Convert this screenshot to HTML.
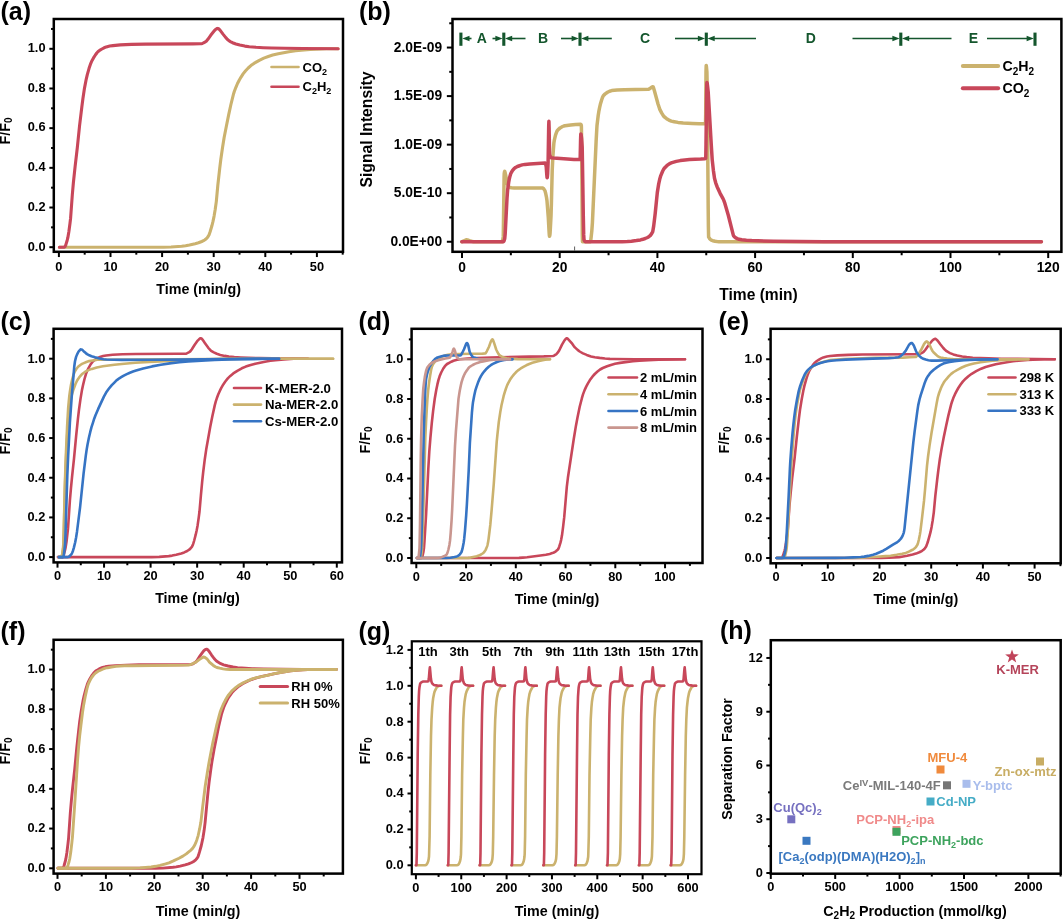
<!DOCTYPE html>
<html><head><meta charset="utf-8"><title>Figure</title>
<style>
html,body{margin:0;padding:0;background:#fff;}
svg{display:block;font-family:"Liberation Sans", Arial, Helvetica, sans-serif;}
</style></head><body>
<svg width="1063" height="919" viewBox="0 0 1063 919">
<rect x="0" y="0" width="1063" height="919" fill="#fff"/>
<path d="M59.4 247.2L163.3 247.2L171.1 247.0L181.7 246.3L185.6 245.7L189.5 245.0L195.1 243.7L198.5 242.8L201.8 241.5L203.5 240.7L204.6 240.0L206.3 238.7L207.4 237.5L208.5 235.9L209.1 234.7L210.2 231.5L211.9 225.8L213.0 221.4L214.1 216.1L215.2 209.5L216.3 201.6L217.8 185.5L219.7 168.5L220.8 159.5L222.5 147.7L224.1 137.7L226.4 126.0L228.6 115.1L230.8 105.0L233.6 93.7L234.3 91.5L235.9 87.3L237.5 83.5L239.2 80.2L240.9 77.3L243.1 73.9L245.4 71.0L248.2 68.0L250.9 65.6L254.3 63.2L259.3 60.3L263.8 58.1L268.3 56.5L272.7 55.1L278.3 53.8L288.9 51.8L295.6 50.8L301.2 50.1L310.1 49.4L321.3 48.9L326.3 48.8L338.1 48.8" fill="none" stroke="#cbb26e" stroke-width="3.1" stroke-linecap="round" stroke-linejoin="round"/>
<path d="M59.4 247.2L64.3 247.2L64.4 247.2L65.0 246.6L65.6 245.5L66.1 243.9L67.2 240.2L67.8 237.9L68.9 231.5L70.0 223.2L70.6 218.2L72.3 195.0L73.4 182.5L75.1 166.7L77.3 147.8L79.6 125.4L81.8 107.2L82.9 98.7L84.5 88.1L86.2 79.3L87.3 74.6L89.0 68.6L90.7 63.6L91.8 61.0L93.5 57.9L95.7 54.5L96.8 53.0L97.9 51.8L99.6 50.4L101.9 49.0L104.1 47.8L106.3 46.9L108.0 46.4L109.7 46.0L113.0 45.6L120.3 44.9L131.4 44.4L145.4 44.1L192.9 43.9L200.3 43.8L201.2 43.7L202.4 43.4L203.5 42.9L205.4 41.9L206.3 41.2L207.9 39.3L210.7 35.3L214.7 30.3L215.2 29.8L216.3 29.0L216.9 28.6L217.8 28.4L218.6 28.7L220.2 30.3L223.0 34.1L225.8 37.6L227.5 39.5L229.2 40.9L230.8 41.8L232.5 42.7L235.9 44.0L239.8 45.1L244.8 46.1L249.3 46.7L256.0 47.3L263.2 47.7L271.6 48.0L285.0 48.3L302.9 48.5L338.1 48.8" fill="none" stroke="#c8475a" stroke-width="3.1" stroke-linecap="round" stroke-linejoin="round"/>
<line x1="58.90" y1="251.80" x2="58.90" y2="257.05" stroke="#000" stroke-width="2" stroke-linecap="butt"/>
<text x="58.90" y="270.50" font-size="12.8" text-anchor="middle" fill="#000" font-weight="bold">0</text>
<line x1="110.50" y1="251.80" x2="110.50" y2="257.05" stroke="#000" stroke-width="2" stroke-linecap="butt"/>
<text x="110.50" y="270.50" font-size="12.8" text-anchor="middle" fill="#000" font-weight="bold">10</text>
<line x1="162.10" y1="251.80" x2="162.10" y2="257.05" stroke="#000" stroke-width="2" stroke-linecap="butt"/>
<text x="162.10" y="270.50" font-size="12.8" text-anchor="middle" fill="#000" font-weight="bold">20</text>
<line x1="213.70" y1="251.80" x2="213.70" y2="257.05" stroke="#000" stroke-width="2" stroke-linecap="butt"/>
<text x="213.70" y="270.50" font-size="12.8" text-anchor="middle" fill="#000" font-weight="bold">30</text>
<line x1="265.30" y1="251.80" x2="265.30" y2="257.05" stroke="#000" stroke-width="2" stroke-linecap="butt"/>
<text x="265.30" y="270.50" font-size="12.8" text-anchor="middle" fill="#000" font-weight="bold">40</text>
<line x1="316.90" y1="251.80" x2="316.90" y2="257.05" stroke="#000" stroke-width="2" stroke-linecap="butt"/>
<text x="316.90" y="270.50" font-size="12.8" text-anchor="middle" fill="#000" font-weight="bold">50</text>
<line x1="84.70" y1="251.80" x2="84.70" y2="254.65" stroke="#000" stroke-width="2" stroke-linecap="butt"/>
<line x1="136.30" y1="251.80" x2="136.30" y2="254.65" stroke="#000" stroke-width="2" stroke-linecap="butt"/>
<line x1="187.90" y1="251.80" x2="187.90" y2="254.65" stroke="#000" stroke-width="2" stroke-linecap="butt"/>
<line x1="239.50" y1="251.80" x2="239.50" y2="254.65" stroke="#000" stroke-width="2" stroke-linecap="butt"/>
<line x1="291.10" y1="251.80" x2="291.10" y2="254.65" stroke="#000" stroke-width="2" stroke-linecap="butt"/>
<line x1="342.70" y1="251.80" x2="342.70" y2="254.65" stroke="#000" stroke-width="2" stroke-linecap="butt"/>
<line x1="49.35" y1="247.20" x2="53.80" y2="247.20" stroke="#000" stroke-width="2" stroke-linecap="butt"/>
<text x="45.50" y="250.50" font-size="12.8" text-anchor="end" fill="#000" font-weight="bold">0.0</text>
<line x1="49.35" y1="207.52" x2="53.80" y2="207.52" stroke="#000" stroke-width="2" stroke-linecap="butt"/>
<text x="45.50" y="210.82" font-size="12.8" text-anchor="end" fill="#000" font-weight="bold">0.2</text>
<line x1="49.35" y1="167.84" x2="53.80" y2="167.84" stroke="#000" stroke-width="2" stroke-linecap="butt"/>
<text x="45.50" y="171.14" font-size="12.8" text-anchor="end" fill="#000" font-weight="bold">0.4</text>
<line x1="49.35" y1="128.16" x2="53.80" y2="128.16" stroke="#000" stroke-width="2" stroke-linecap="butt"/>
<text x="45.50" y="131.46" font-size="12.8" text-anchor="end" fill="#000" font-weight="bold">0.6</text>
<line x1="49.35" y1="88.48" x2="53.80" y2="88.48" stroke="#000" stroke-width="2" stroke-linecap="butt"/>
<text x="45.50" y="91.78" font-size="12.8" text-anchor="end" fill="#000" font-weight="bold">0.8</text>
<line x1="49.35" y1="48.80" x2="53.80" y2="48.80" stroke="#000" stroke-width="2" stroke-linecap="butt"/>
<text x="45.50" y="52.10" font-size="12.8" text-anchor="end" fill="#000" font-weight="bold">1.0</text>
<line x1="51.05" y1="227.36" x2="53.80" y2="227.36" stroke="#000" stroke-width="2" stroke-linecap="butt"/>
<line x1="51.05" y1="187.68" x2="53.80" y2="187.68" stroke="#000" stroke-width="2" stroke-linecap="butt"/>
<line x1="51.05" y1="148.00" x2="53.80" y2="148.00" stroke="#000" stroke-width="2" stroke-linecap="butt"/>
<line x1="51.05" y1="108.32" x2="53.80" y2="108.32" stroke="#000" stroke-width="2" stroke-linecap="butt"/>
<line x1="51.05" y1="68.64" x2="53.80" y2="68.64" stroke="#000" stroke-width="2" stroke-linecap="butt"/>
<line x1="51.05" y1="28.96" x2="53.80" y2="28.96" stroke="#000" stroke-width="2" stroke-linecap="butt"/>
<rect x="53.80" y="19.00" width="289.20" height="232.80" fill="none" stroke="#000" stroke-width="2.5"/>
<line x1="271.50" y1="67.00" x2="298.50" y2="67.00" stroke="#cbb26e" stroke-width="2.6" stroke-linecap="round"/>
<text x="302.50" y="71.60" font-size="13" text-anchor="start" fill="#000" font-weight="bold">CO<tspan dy="3" font-size="9">2</tspan><tspan dy="-3" font-size="1">&#8203;</tspan></text>
<line x1="271.50" y1="86.80" x2="298.50" y2="86.80" stroke="#c8475a" stroke-width="2.6" stroke-linecap="round"/>
<text x="302.50" y="91.40" font-size="13" text-anchor="start" fill="#000" font-weight="bold">C<tspan dy="3" font-size="9">2</tspan><tspan dy="-3" font-size="1">&#8203;</tspan>H<tspan dy="3" font-size="9">2</tspan><tspan dy="-3" font-size="1">&#8203;</tspan></text>
<text x="198.60" y="293.80" font-size="14.3" text-anchor="middle" fill="#000" font-weight="bold">Time (min/g)</text>
<text x="9.80" y="131.00" font-size="14.3" text-anchor="middle" fill="#000" font-weight="bold" transform="rotate(-90 9.80 131.00)">F/F<tspan dy="2.6" font-size="10">0</tspan><tspan dy="-2.6" font-size="1">&#8203;</tspan></text>
<text x="0.50" y="19.50" font-size="25" text-anchor="start" fill="#000" font-weight="bold">(a)</text>
<path d="M461.8 241.8L464.3 240.7L465.8 240.0L466.6 239.8L467.4 239.9L469.3 240.7L471.4 241.3L473.5 241.7L502.0 241.8L502.1 241.7L502.3 241.4L502.9 239.0L503.2 236.9L503.3 235.0L504.1 176.8L504.2 173.8L504.5 171.8L504.7 171.3L504.8 171.5L505.0 172.2L505.6 174.8L507.2 182.9L508.3 186.1L508.7 186.9L509.1 187.3L511.4 187.7L514.3 187.9L542.3 187.9L542.7 188.0L543.1 188.2L544.1 189.4L544.9 190.6L545.6 193.0L546.4 196.8L547.0 200.8L548.3 217.6L549.1 232.2L549.3 234.9L549.5 236.2L549.7 235.9L549.9 234.7L550.1 232.8L551.0 216.4L551.4 203.6L552.2 170.7L552.8 158.0L553.4 149.2L553.9 142.9L554.4 139.8L555.5 135.2L556.5 132.4L557.0 131.1L557.6 130.3L558.8 129.1L560.1 127.9L561.3 127.2L562.6 126.5L563.8 126.0L565.0 125.7L570.6 124.9L575.6 124.4L580.6 124.3L580.8 124.4L581.0 124.6L581.3 125.2L581.4 126.9L581.6 140.8L582.2 217.3L582.3 235.9L582.5 241.8L590.3 241.8L590.5 241.5L590.7 240.8L591.2 236.6L591.8 231.1L592.4 222.8L596.1 141.7L596.7 130.7L597.0 125.5L598.2 115.5L598.8 111.7L599.6 107.6L600.5 103.7L601.7 99.7L602.6 97.1L603.4 95.7L603.9 95.1L605.2 93.9L607.5 92.3L609.6 91.2L611.7 90.6L617.1 90.1L624.5 89.8L635.3 89.5L648.5 89.3L648.8 89.2L649.4 88.9L652.1 87.0L652.5 86.8L652.9 86.8L653.1 86.9L653.5 87.7L654.4 90.7L658.1 104.2L659.1 107.3L659.8 109.4L661.6 112.9L663.3 115.7L664.7 117.2L666.6 118.7L668.9 120.1L671.3 121.1L674.2 121.7L678.0 122.4L683.2 122.9L692.3 123.4L699.3 123.7L705.5 123.8L705.7 113.8L706.0 71.9L706.2 65.5L706.4 66.3L706.9 71.8L707.2 86.8L708.2 209.2L708.4 226.9L708.6 236.2L708.6 236.9L709.5 238.5L710.3 239.4L711.3 240.1L712.8 240.7L715.1 241.3L717.1 241.6L718.8 241.7L1041.4 241.8" fill="none" stroke="#cbb26e" stroke-width="3.5" stroke-linecap="round" stroke-linejoin="round"/>
<path d="M461.8 241.8L503.2 241.8L503.5 241.6L503.7 241.4L504.1 240.6L504.7 238.8L504.8 237.9L505.2 233.6L507.0 198.5L507.6 190.3L508.7 182.3L509.3 179.0L509.9 176.4L510.7 173.8L511.6 172.0L512.6 170.4L513.9 168.8L514.7 168.1L515.5 167.5L517.0 166.7L518.8 166.0L520.5 165.4L522.2 164.9L524.9 164.4L529.8 163.9L541.2 163.2L545.2 163.1L545.4 163.4L545.6 163.9L546.2 166.5L546.8 175.0L547.0 177.2L547.1 177.7L547.2 177.6L547.4 176.4L547.6 174.1L548.1 162.2L548.7 126.1L548.9 121.3L549.1 127.4L549.5 150.8L549.6 154.4L550.3 156.7L550.7 157.4L551.0 157.7L553.6 158.1L567.3 159.0L574.0 159.4L580.1 159.5L580.2 157.2L580.6 139.0L580.8 134.0L581.0 134.3L581.2 135.2L581.6 138.8L582.2 147.3L582.5 164.8L583.3 216.1L583.7 234.9L584.0 239.8L584.5 240.8L584.9 241.3L585.2 241.6L585.7 241.8L622.2 241.7L627.4 241.5L631.4 241.2L636.4 240.6L640.5 239.9L642.8 239.3L645.2 238.5L647.5 237.5L648.8 236.7L650.2 235.6L651.5 233.9L652.5 232.2L652.9 230.7L653.7 225.9L655.2 213.5L657.3 192.6L658.7 183.9L659.7 179.3L660.8 175.6L662.6 171.3L663.5 169.5L664.3 168.3L665.3 167.2L666.8 165.7L668.2 164.6L669.5 163.7L670.7 163.1L672.0 162.6L676.3 161.4L680.3 160.6L685.0 160.0L689.4 159.6L700.8 159.1L704.7 158.7L705.7 158.4L705.8 155.5L706.0 144.1L706.6 93.9L706.8 84.1L706.9 82.5L707.2 83.3L707.6 86.4L708.2 92.0L711.3 145.3L712.2 159.6L713.4 170.5L714.0 174.8L714.5 178.3L715.7 182.8L717.1 186.7L720.1 193.3L723.0 198.6L723.8 200.4L724.6 202.6L725.9 207.0L728.3 215.3L733.3 235.1L733.7 236.0L734.5 236.8L735.8 237.9L737.2 238.6L739.1 239.3L741.8 239.8L746.4 240.3L751.7 240.6L773.7 241.2L799.0 241.6L824.1 241.7L1041.4 241.8" fill="none" stroke="#c8475a" stroke-width="3.5" stroke-linecap="round" stroke-linejoin="round"/>
<line x1="462.00" y1="251.80" x2="462.00" y2="258.05" stroke="#000" stroke-width="2" stroke-linecap="butt"/>
<text x="462.00" y="272.30" font-size="13.8" text-anchor="middle" fill="#000" font-weight="bold">0</text>
<line x1="559.70" y1="251.80" x2="559.70" y2="258.05" stroke="#000" stroke-width="2" stroke-linecap="butt"/>
<text x="559.70" y="272.30" font-size="13.8" text-anchor="middle" fill="#000" font-weight="bold">20</text>
<line x1="657.40" y1="251.80" x2="657.40" y2="258.05" stroke="#000" stroke-width="2" stroke-linecap="butt"/>
<text x="657.40" y="272.30" font-size="13.8" text-anchor="middle" fill="#000" font-weight="bold">40</text>
<line x1="755.10" y1="251.80" x2="755.10" y2="258.05" stroke="#000" stroke-width="2" stroke-linecap="butt"/>
<text x="755.10" y="272.30" font-size="13.8" text-anchor="middle" fill="#000" font-weight="bold">60</text>
<line x1="852.80" y1="251.80" x2="852.80" y2="258.05" stroke="#000" stroke-width="2" stroke-linecap="butt"/>
<text x="852.80" y="272.30" font-size="13.8" text-anchor="middle" fill="#000" font-weight="bold">80</text>
<line x1="950.50" y1="251.80" x2="950.50" y2="258.05" stroke="#000" stroke-width="2" stroke-linecap="butt"/>
<text x="950.50" y="272.30" font-size="13.8" text-anchor="middle" fill="#000" font-weight="bold">100</text>
<line x1="1048.20" y1="251.80" x2="1048.20" y2="258.05" stroke="#000" stroke-width="2" stroke-linecap="butt"/>
<text x="1048.20" y="272.30" font-size="13.8" text-anchor="middle" fill="#000" font-weight="bold">120</text>
<line x1="510.85" y1="251.80" x2="510.85" y2="255.25" stroke="#000" stroke-width="2" stroke-linecap="butt"/>
<line x1="608.55" y1="251.80" x2="608.55" y2="255.25" stroke="#000" stroke-width="2" stroke-linecap="butt"/>
<line x1="706.25" y1="251.80" x2="706.25" y2="255.25" stroke="#000" stroke-width="2" stroke-linecap="butt"/>
<line x1="803.95" y1="251.80" x2="803.95" y2="255.25" stroke="#000" stroke-width="2" stroke-linecap="butt"/>
<line x1="901.65" y1="251.80" x2="901.65" y2="255.25" stroke="#000" stroke-width="2" stroke-linecap="butt"/>
<line x1="999.35" y1="251.80" x2="999.35" y2="255.25" stroke="#000" stroke-width="2" stroke-linecap="butt"/>
<line x1="446.85" y1="241.75" x2="452.50" y2="241.75" stroke="#000" stroke-width="2" stroke-linecap="butt"/>
<text x="442.20" y="245.85" font-size="13.8" text-anchor="end" fill="#000" font-weight="bold">0.0E+00</text>
<line x1="446.85" y1="193.20" x2="452.50" y2="193.20" stroke="#000" stroke-width="2" stroke-linecap="butt"/>
<text x="442.20" y="197.30" font-size="13.8" text-anchor="end" fill="#000" font-weight="bold">5.0E-10</text>
<line x1="446.85" y1="144.65" x2="452.50" y2="144.65" stroke="#000" stroke-width="2" stroke-linecap="butt"/>
<text x="442.20" y="148.75" font-size="13.8" text-anchor="end" fill="#000" font-weight="bold">1.0E-09</text>
<line x1="446.85" y1="96.10" x2="452.50" y2="96.10" stroke="#000" stroke-width="2" stroke-linecap="butt"/>
<text x="442.20" y="100.20" font-size="13.8" text-anchor="end" fill="#000" font-weight="bold">1.5E-09</text>
<line x1="446.85" y1="47.55" x2="452.50" y2="47.55" stroke="#000" stroke-width="2" stroke-linecap="butt"/>
<text x="442.20" y="51.65" font-size="13.8" text-anchor="end" fill="#000" font-weight="bold">2.0E-09</text>
<line x1="449.25" y1="217.47" x2="452.50" y2="217.47" stroke="#000" stroke-width="2" stroke-linecap="butt"/>
<line x1="449.25" y1="168.93" x2="452.50" y2="168.93" stroke="#000" stroke-width="2" stroke-linecap="butt"/>
<line x1="449.25" y1="120.38" x2="452.50" y2="120.38" stroke="#000" stroke-width="2" stroke-linecap="butt"/>
<line x1="449.25" y1="71.83" x2="452.50" y2="71.83" stroke="#000" stroke-width="2" stroke-linecap="butt"/>
<line x1="449.25" y1="23.28" x2="452.50" y2="23.28" stroke="#000" stroke-width="2" stroke-linecap="butt"/>
<rect x="452.50" y="19.00" width="608.90" height="232.80" fill="none" stroke="#000" stroke-width="2.5"/>
<line x1="962.80" y1="66.00" x2="998.20" y2="66.00" stroke="#cbb26e" stroke-width="3.9" stroke-linecap="round"/>
<text x="1002.50" y="71.02" font-size="14.2" text-anchor="start" fill="#000" font-weight="bold">C<tspan dy="3.6" font-size="10">2</tspan><tspan dy="-3.6" font-size="1">&#8203;</tspan>H<tspan dy="3.6" font-size="10">2</tspan><tspan dy="-3.6" font-size="1">&#8203;</tspan></text>
<line x1="962.80" y1="88.20" x2="998.20" y2="88.20" stroke="#c8475a" stroke-width="3.9" stroke-linecap="round"/>
<text x="1002.50" y="93.22" font-size="14.2" text-anchor="start" fill="#000" font-weight="bold">CO<tspan dy="3.6" font-size="10">2</tspan><tspan dy="-3.6" font-size="1">&#8203;</tspan></text>
<text x="758.50" y="299.80" font-size="15.6" text-anchor="middle" fill="#000" font-weight="bold">Time (min)</text>
<text x="372.00" y="129.50" font-size="15.7" text-anchor="middle" fill="#000" font-weight="bold" transform="rotate(-90 372.00 129.50)">Signal Intensity</text>
<text x="359.00" y="19.50" font-size="25" text-anchor="start" fill="#000" font-weight="bold">(b)</text>
<line x1="574.60" y1="246.50" x2="574.60" y2="250.60" stroke="#333" stroke-width="0.8" stroke-linecap="butt"/>
<line x1="460.90" y1="32.60" x2="460.90" y2="45.80" stroke="#14562d" stroke-width="3.1" stroke-linecap="butt"/>
<line x1="503.80" y1="32.60" x2="503.80" y2="45.80" stroke="#14562d" stroke-width="3.1" stroke-linecap="butt"/>
<line x1="580.00" y1="32.60" x2="580.00" y2="45.80" stroke="#14562d" stroke-width="3.1" stroke-linecap="butt"/>
<line x1="706.30" y1="32.60" x2="706.30" y2="45.80" stroke="#14562d" stroke-width="3.1" stroke-linecap="butt"/>
<line x1="900.80" y1="32.60" x2="900.80" y2="45.80" stroke="#14562d" stroke-width="3.1" stroke-linecap="butt"/>
<line x1="1035.00" y1="32.60" x2="1035.00" y2="45.80" stroke="#14562d" stroke-width="3.1" stroke-linecap="butt"/>
<line x1="466.30" y1="38.50" x2="471.50" y2="38.50" stroke="#14562d" stroke-width="1.6" stroke-linecap="butt"/>
<polygon points="462.30,38.5 469.50,35.7 469.50,41.3" fill="#14562d"/>
<line x1="498.60" y1="38.50" x2="492.50" y2="38.50" stroke="#14562d" stroke-width="1.6" stroke-linecap="butt"/>
<polygon points="502.60,38.5 495.40,35.7 495.40,41.3" fill="#14562d"/>
<line x1="509.00" y1="38.50" x2="525.50" y2="38.50" stroke="#14562d" stroke-width="1.6" stroke-linecap="butt"/>
<polygon points="505.00,38.5 512.20,35.7 512.20,41.3" fill="#14562d"/>
<line x1="574.80" y1="38.50" x2="561.00" y2="38.50" stroke="#14562d" stroke-width="1.6" stroke-linecap="butt"/>
<polygon points="578.80,38.5 571.60,35.7 571.60,41.3" fill="#14562d"/>
<line x1="585.20" y1="38.50" x2="611.80" y2="38.50" stroke="#14562d" stroke-width="1.6" stroke-linecap="butt"/>
<polygon points="581.20,38.5 588.40,35.7 588.40,41.3" fill="#14562d"/>
<line x1="701.10" y1="38.50" x2="675.00" y2="38.50" stroke="#14562d" stroke-width="1.6" stroke-linecap="butt"/>
<polygon points="705.10,38.5 697.90,35.7 697.90,41.3" fill="#14562d"/>
<line x1="711.50" y1="38.50" x2="756.00" y2="38.50" stroke="#14562d" stroke-width="1.6" stroke-linecap="butt"/>
<polygon points="707.50,38.5 714.70,35.7 714.70,41.3" fill="#14562d"/>
<line x1="895.60" y1="38.50" x2="852.50" y2="38.50" stroke="#14562d" stroke-width="1.6" stroke-linecap="butt"/>
<polygon points="899.60,38.5 892.40,35.7 892.40,41.3" fill="#14562d"/>
<line x1="906.00" y1="38.50" x2="951.50" y2="38.50" stroke="#14562d" stroke-width="1.6" stroke-linecap="butt"/>
<polygon points="902.00,38.5 909.20,35.7 909.20,41.3" fill="#14562d"/>
<line x1="1029.80" y1="38.50" x2="987.00" y2="38.50" stroke="#14562d" stroke-width="1.6" stroke-linecap="butt"/>
<polygon points="1033.80,38.5 1026.60,35.7 1026.60,41.3" fill="#14562d"/>
<text x="481.80" y="43.30" font-size="14" text-anchor="middle" fill="#14562d" font-weight="bold">A</text>
<text x="543.00" y="43.30" font-size="14" text-anchor="middle" fill="#14562d" font-weight="bold">B</text>
<text x="645.00" y="43.30" font-size="14" text-anchor="middle" fill="#14562d" font-weight="bold">C</text>
<text x="810.80" y="43.30" font-size="14" text-anchor="middle" fill="#14562d" font-weight="bold">D</text>
<text x="973.30" y="43.30" font-size="14" text-anchor="middle" fill="#14562d" font-weight="bold">E</text>
<path d="M58.0 557.1L151.6 557.1L159.2 556.9L168.7 556.1L172.2 555.6L176.2 554.7L181.2 553.4L184.2 552.4L187.2 551.0L189.2 549.7L190.7 548.3L192.0 546.6L192.7 545.2L193.2 543.9L194.2 540.5L195.7 534.7L196.7 530.2L197.6 525.4L198.7 517.8L199.5 511.5L200.9 495.4L202.2 481.3L203.2 472.0L204.7 459.9L206.2 449.6L208.3 437.8L210.2 427.1L212.3 416.6L214.8 405.1L215.8 401.4L216.8 398.3L218.3 394.3L219.8 390.9L221.3 387.9L223.3 384.4L225.3 381.5L227.8 378.4L230.3 375.9L233.3 373.4L237.3 370.8L241.8 368.3L245.8 366.6L249.8 365.2L255.3 363.7L264.9 361.7L270.4 360.8L275.4 360.1L283.9 359.4L293.9 358.8L298.4 358.7L307.9 358.7" fill="none" stroke="#c8475a" stroke-width="2.6" stroke-linecap="round" stroke-linejoin="round"/>
<path d="M58.0 557.1L62.4 557.1L63.0 556.6L63.5 555.5L64.0 553.9L65.0 550.2L65.5 548.0L66.5 541.8L68.0 528.7L69.9 500.4L71.0 487.7L72.0 477.4L74.0 458.7L76.2 435.3L78.0 418.2L79.0 409.6L80.5 398.9L82.0 389.9L83.0 385.3L84.5 379.0L86.0 373.9L87.0 371.2L88.5 368.1L90.5 364.6L91.5 363.2L92.5 361.9L94.0 360.5L96.0 359.1L98.0 357.9L100.0 356.9L101.5 356.4L103.1 356.0L106.1 355.5L112.6 354.8L122.6 354.3L135.6 354.0L177.2 353.8L185.7 353.7L186.7 353.4L187.7 352.9L189.2 352.1L190.2 351.4L191.7 349.5L194.7 344.8L197.7 340.6L199.0 339.3L200.2 338.4L200.9 338.3L201.2 338.4L201.7 338.7L202.7 339.9L203.7 341.2L205.2 343.6L208.3 347.8L209.8 349.5L211.1 350.8L213.8 352.4L216.8 353.8L220.3 354.9L224.8 355.9L228.8 356.6L234.3 357.1L240.8 357.5L248.3 357.8L259.3 358.1L272.4 358.4L292.4 358.6L307.9 358.7" fill="none" stroke="#c8475a" stroke-width="2.6" stroke-linecap="round" stroke-linejoin="round"/>
<path d="M58.9 557.1L61.2 557.1L61.6 556.6L62.2 554.7L62.7 551.5L63.1 549.2L63.3 546.6L63.8 531.9L64.9 488.4L65.4 473.8L66.0 459.2L67.1 436.3L67.7 426.8L68.2 419.0L68.7 414.3L69.3 408.6L70.4 401.4L71.5 396.1L72.1 393.9L73.2 390.3L75.4 384.3L77.0 380.8L78.1 379.0L79.2 377.4L80.3 376.0L81.4 374.8L82.5 373.8L84.2 372.5L85.8 371.4L86.9 370.9L89.1 369.9L91.9 368.9L96.8 367.5L102.9 366.3L114.4 364.8L124.3 363.7L135.3 362.8L149.6 361.9L195.2 359.7L225.9 358.9L242.4 358.7L333.1 358.7" fill="none" stroke="#cbb26e" stroke-width="2.6" stroke-linecap="round" stroke-linejoin="round"/>
<path d="M58.9 557.1L61.2 557.1L61.6 556.5L62.2 554.0L62.7 550.1L63.1 547.2L63.3 544.3L63.8 528.7L64.9 483.3L65.4 467.8L66.0 452.0L67.1 426.9L67.7 416.3L68.2 407.6L68.7 402.3L69.3 396.1L69.9 391.7L71.0 384.8L72.1 379.9L73.2 375.9L73.7 374.2L74.8 371.5L76.5 368.8L78.1 366.8L80.3 365.0L82.0 363.9L83.8 363.1L86.4 362.0L89.1 361.1L90.8 360.8L94.6 360.2L97.4 359.8L99.6 359.7L251.2 358.7L333.1 358.7" fill="none" stroke="#cbb26e" stroke-width="2.6" stroke-linecap="round" stroke-linejoin="round"/>
<path d="M58.9 557.1L67.7 557.1L68.6 556.9L69.0 556.6L69.9 555.9L71.5 554.1L72.1 553.0L73.0 550.7L73.9 547.6L75.2 542.2L76.1 537.5L77.0 531.7L80.1 507.1L83.6 473.4L85.8 455.6L86.7 449.4L87.5 444.8L88.9 437.8L90.2 432.2L91.5 427.2L92.9 422.8L94.2 418.7L95.5 415.2L98.2 408.9L103.9 396.6L106.1 392.6L108.8 388.8L111.8 385.1L114.1 382.8L115.8 381.1L117.6 379.6L119.3 378.3L121.6 376.9L123.8 375.6L126.8 374.1L129.9 372.7L133.0 371.5L136.1 370.5L139.6 369.4L143.2 368.4L152.0 366.4L160.8 364.8L171.4 363.1L179.4 362.2L188.2 361.5L201.4 360.6L214.7 360.0L229.2 359.5L241.1 359.1L263.2 358.8L279.1 358.7" fill="none" stroke="#3674c4" stroke-width="2.6" stroke-linecap="round" stroke-linejoin="round"/>
<path d="M58.9 557.1L63.1 557.1L63.3 556.9L63.8 555.2L64.6 548.3L65.1 543.6L65.5 534.5L67.3 475.7L68.2 455.2L69.9 422.5L71.7 396.8L73.9 370.8L74.3 366.2L75.0 361.3L75.7 358.4L76.1 356.9L77.0 354.6L78.3 352.0L79.2 350.8L80.1 349.8L80.5 349.4L80.8 349.4L81.8 349.6L82.3 349.9L83.6 351.2L85.8 353.1L87.1 354.1L89.3 355.3L91.5 356.2L95.1 357.3L98.6 358.2L103.5 359.2L106.4 359.5L114.1 359.8L121.6 359.9L149.8 359.8L180.2 359.6L226.1 359.0L279.1 358.7" fill="none" stroke="#3674c4" stroke-width="2.6" stroke-linecap="round" stroke-linejoin="round"/>
<line x1="57.50" y1="562.40" x2="57.50" y2="567.65" stroke="#000" stroke-width="2" stroke-linecap="butt"/>
<text x="57.50" y="580.00" font-size="12.8" text-anchor="middle" fill="#000" font-weight="bold">0</text>
<line x1="104.05" y1="562.40" x2="104.05" y2="567.65" stroke="#000" stroke-width="2" stroke-linecap="butt"/>
<text x="104.05" y="580.00" font-size="12.8" text-anchor="middle" fill="#000" font-weight="bold">10</text>
<line x1="150.60" y1="562.40" x2="150.60" y2="567.65" stroke="#000" stroke-width="2" stroke-linecap="butt"/>
<text x="150.60" y="580.00" font-size="12.8" text-anchor="middle" fill="#000" font-weight="bold">20</text>
<line x1="197.15" y1="562.40" x2="197.15" y2="567.65" stroke="#000" stroke-width="2" stroke-linecap="butt"/>
<text x="197.15" y="580.00" font-size="12.8" text-anchor="middle" fill="#000" font-weight="bold">30</text>
<line x1="243.70" y1="562.40" x2="243.70" y2="567.65" stroke="#000" stroke-width="2" stroke-linecap="butt"/>
<text x="243.70" y="580.00" font-size="12.8" text-anchor="middle" fill="#000" font-weight="bold">40</text>
<line x1="290.25" y1="562.40" x2="290.25" y2="567.65" stroke="#000" stroke-width="2" stroke-linecap="butt"/>
<text x="290.25" y="580.00" font-size="12.8" text-anchor="middle" fill="#000" font-weight="bold">50</text>
<line x1="336.80" y1="562.40" x2="336.80" y2="567.65" stroke="#000" stroke-width="2" stroke-linecap="butt"/>
<text x="336.80" y="580.00" font-size="12.8" text-anchor="middle" fill="#000" font-weight="bold">60</text>
<line x1="80.78" y1="562.40" x2="80.78" y2="565.25" stroke="#000" stroke-width="2" stroke-linecap="butt"/>
<line x1="127.33" y1="562.40" x2="127.33" y2="565.25" stroke="#000" stroke-width="2" stroke-linecap="butt"/>
<line x1="173.88" y1="562.40" x2="173.88" y2="565.25" stroke="#000" stroke-width="2" stroke-linecap="butt"/>
<line x1="220.43" y1="562.40" x2="220.43" y2="565.25" stroke="#000" stroke-width="2" stroke-linecap="butt"/>
<line x1="266.98" y1="562.40" x2="266.98" y2="565.25" stroke="#000" stroke-width="2" stroke-linecap="butt"/>
<line x1="313.53" y1="562.40" x2="313.53" y2="565.25" stroke="#000" stroke-width="2" stroke-linecap="butt"/>
<line x1="49.15" y1="557.10" x2="53.60" y2="557.10" stroke="#000" stroke-width="2" stroke-linecap="butt"/>
<text x="45.30" y="560.90" font-size="12.8" text-anchor="end" fill="#000" font-weight="bold">0.0</text>
<line x1="49.15" y1="517.42" x2="53.60" y2="517.42" stroke="#000" stroke-width="2" stroke-linecap="butt"/>
<text x="45.30" y="521.22" font-size="12.8" text-anchor="end" fill="#000" font-weight="bold">0.2</text>
<line x1="49.15" y1="477.74" x2="53.60" y2="477.74" stroke="#000" stroke-width="2" stroke-linecap="butt"/>
<text x="45.30" y="481.54" font-size="12.8" text-anchor="end" fill="#000" font-weight="bold">0.4</text>
<line x1="49.15" y1="438.06" x2="53.60" y2="438.06" stroke="#000" stroke-width="2" stroke-linecap="butt"/>
<text x="45.30" y="441.86" font-size="12.8" text-anchor="end" fill="#000" font-weight="bold">0.6</text>
<line x1="49.15" y1="398.38" x2="53.60" y2="398.38" stroke="#000" stroke-width="2" stroke-linecap="butt"/>
<text x="45.30" y="402.18" font-size="12.8" text-anchor="end" fill="#000" font-weight="bold">0.8</text>
<line x1="49.15" y1="358.70" x2="53.60" y2="358.70" stroke="#000" stroke-width="2" stroke-linecap="butt"/>
<text x="45.30" y="362.50" font-size="12.8" text-anchor="end" fill="#000" font-weight="bold">1.0</text>
<line x1="50.85" y1="537.26" x2="53.60" y2="537.26" stroke="#000" stroke-width="2" stroke-linecap="butt"/>
<line x1="50.85" y1="497.58" x2="53.60" y2="497.58" stroke="#000" stroke-width="2" stroke-linecap="butt"/>
<line x1="50.85" y1="457.90" x2="53.60" y2="457.90" stroke="#000" stroke-width="2" stroke-linecap="butt"/>
<line x1="50.85" y1="418.22" x2="53.60" y2="418.22" stroke="#000" stroke-width="2" stroke-linecap="butt"/>
<line x1="50.85" y1="378.54" x2="53.60" y2="378.54" stroke="#000" stroke-width="2" stroke-linecap="butt"/>
<line x1="50.85" y1="338.86" x2="53.60" y2="338.86" stroke="#000" stroke-width="2" stroke-linecap="butt"/>
<rect x="53.60" y="328.80" width="288.40" height="233.60" fill="none" stroke="#000" stroke-width="2.5"/>
<line x1="234.00" y1="388.00" x2="261.00" y2="388.00" stroke="#c8475a" stroke-width="2.6" stroke-linecap="round"/>
<text x="265.00" y="392.67" font-size="13.2" text-anchor="start" fill="#000" font-weight="bold">K-MER-2.0</text>
<line x1="234.00" y1="404.60" x2="261.00" y2="404.60" stroke="#cbb26e" stroke-width="2.6" stroke-linecap="round"/>
<text x="265.00" y="409.27" font-size="13.2" text-anchor="start" fill="#000" font-weight="bold">Na-MER-2.0</text>
<line x1="234.00" y1="421.20" x2="261.00" y2="421.20" stroke="#3674c4" stroke-width="2.6" stroke-linecap="round"/>
<text x="265.00" y="425.87" font-size="13.2" text-anchor="start" fill="#000" font-weight="bold">Cs-MER-2.0</text>
<text x="197.50" y="603.00" font-size="14.3" text-anchor="middle" fill="#000" font-weight="bold">Time (min/g)</text>
<text x="9.80" y="441.00" font-size="14.3" text-anchor="middle" fill="#000" font-weight="bold" transform="rotate(-90 9.80 441.00)">F/F<tspan dy="2.6" font-size="10">0</tspan><tspan dy="-2.6" font-size="1">&#8203;</tspan></text>
<text x="0.50" y="329.50" font-size="25" text-anchor="start" fill="#000" font-weight="bold">(c)</text>
<path d="M417.0 558.0L515.4 558.0L519.0 557.9L522.8 557.6L527.1 557.2L540.5 555.5L545.9 554.7L549.7 553.9L552.3 553.1L554.5 552.2L556.1 551.1L557.7 549.7L558.3 548.9L559.3 546.4L560.4 542.9L561.1 540.1L562.0 535.3L563.1 526.9L564.2 517.4L566.8 486.9L567.9 477.8L573.8 438.8L576.0 425.4L577.5 417.5L579.7 406.8L581.9 398.2L583.0 394.4L584.6 390.1L586.2 386.6L587.8 383.6L589.9 380.1L592.6 376.4L594.8 374.0L597.5 371.5L600.1 369.5L602.8 368.0L607.1 366.2L610.9 364.9L615.0 363.8L620.0 362.9L625.4 362.1L632.9 361.2L639.4 360.7L648.5 360.2L658.7 359.8L673.2 359.4L685.0 359.2" fill="none" stroke="#c8475a" stroke-width="2.6" stroke-linecap="round" stroke-linejoin="round"/>
<path d="M417.0 558.0L421.4 558.0L421.8 557.7L422.4 556.4L423.4 552.0L424.0 547.7L424.5 540.8L426.1 514.3L428.3 468.7L429.3 451.7L430.4 437.9L431.8 422.9L433.1 411.1L434.7 399.0L436.3 389.8L437.4 384.4L438.5 379.9L439.6 376.3L441.2 372.5L443.3 368.5L444.4 366.9L445.5 365.5L447.1 364.0L449.2 362.8L451.4 361.7L453.5 360.8L456.2 360.0L457.8 359.6L460.0 359.3L467.5 358.5L476.6 358.0L490.6 357.5L529.3 356.6L543.8 356.4L552.9 356.0L554.0 355.7L555.6 354.7L556.6 353.9L557.7 352.7L559.3 350.2L562.0 344.6L564.2 340.9L564.7 340.1L565.8 338.9L566.3 338.4L566.8 338.2L567.4 338.4L570.6 341.8L571.7 343.1L573.8 346.1L574.9 347.4L577.6 349.9L579.7 351.5L581.4 352.5L583.0 353.4L586.7 354.9L591.0 356.4L594.8 357.2L599.6 357.9L605.0 358.5L609.8 358.9L614.1 359.0L635.1 359.2L685.0 359.2" fill="none" stroke="#c8475a" stroke-width="2.6" stroke-linecap="round" stroke-linejoin="round"/>
<path d="M417.0 558.0L465.9 558.0L468.2 557.9L470.6 557.6L473.2 557.0L476.7 556.2L478.8 555.5L480.7 554.7L482.6 553.5L483.6 552.7L484.7 551.4L485.5 550.1L486.3 548.4L487.2 546.1L487.6 544.5L488.2 541.6L488.7 538.0L490.3 524.9L491.6 510.4L493.8 483.5L496.7 441.8L497.4 434.8L498.8 422.0L500.2 412.6L501.5 405.2L503.6 396.2L504.7 392.4L505.8 389.0L507.1 385.4L508.2 383.1L510.0 379.8L511.9 377.0L513.8 374.6L515.9 372.3L518.0 370.4L520.4 368.7L523.4 366.9L526.3 365.3L529.2 364.0L532.4 362.8L538.0 361.2L542.6 360.2L546.5 359.5L550.0 359.2" fill="none" stroke="#cbb26e" stroke-width="2.6" stroke-linecap="round" stroke-linejoin="round"/>
<path d="M417.0 558.0L420.5 558.0L420.7 557.7L421.3 555.3L422.1 548.7L422.3 543.6L422.9 527.5L425.3 438.3L426.1 421.2L426.9 407.2L427.4 399.4L428.2 390.0L429.0 383.2L430.1 375.8L431.1 370.0L431.9 366.8L432.6 365.2L433.8 363.2L434.9 361.7L436.2 360.3L437.5 359.2L438.9 358.3L441.3 357.0L443.7 356.0L445.8 355.3L447.9 354.7L451.1 354.4L459.1 354.0L472.7 353.7L482.6 353.6L485.2 353.4L485.5 353.3L486.0 352.7L486.8 351.3L489.0 346.7L490.8 341.6L491.9 339.8L492.2 339.5L492.4 339.4L492.7 339.6L493.0 340.0L494.0 342.7L496.2 349.5L497.5 352.2L498.6 354.1L499.4 355.1L500.1 355.7L502.0 356.7L504.2 357.5L506.6 358.2L509.0 358.6L517.8 359.1L526.3 359.2L550.0 359.2" fill="none" stroke="#cbb26e" stroke-width="2.6" stroke-linecap="round" stroke-linejoin="round"/>
<path d="M417.0 558.0L446.4 558.0L450.5 557.7L454.5 557.0L456.8 556.4L457.9 556.0L458.9 555.3L459.6 554.6L460.6 553.4L461.4 552.2L461.9 550.8L462.5 548.7L463.7 542.5L464.2 538.7L465.0 530.7L466.2 515.1L466.9 504.1L468.7 470.6L469.9 442.7L471.9 412.9L472.5 406.3L473.0 402.2L474.2 395.7L475.3 390.7L476.5 386.9L478.0 382.6L479.5 378.9L481.1 375.9L482.6 373.5L484.3 371.3L486.6 368.7L488.7 366.8L490.8 365.2L492.9 363.9L496.4 362.3L499.6 361.1L501.9 360.5L504.3 360.0L509.0 359.4L512.4 359.2" fill="none" stroke="#3674c4" stroke-width="2.6" stroke-linecap="round" stroke-linejoin="round"/>
<path d="M417.0 558.0L419.5 558.0L419.7 557.8L419.9 557.3L420.2 555.5L421.0 549.4L421.4 540.8L422.0 518.7L422.5 493.6L423.7 434.8L425.0 395.8L425.6 384.8L426.1 379.1L426.9 375.0L427.7 371.9L428.5 369.5L429.4 367.1L430.2 365.7L431.3 363.8L433.6 360.6L434.6 359.5L435.5 358.6L436.5 358.0L437.5 357.5L441.7 356.2L443.6 355.8L445.3 355.6L447.2 355.5L460.0 355.5L460.6 355.3L461.4 354.4L462.3 352.7L464.0 349.2L465.8 344.7L466.5 343.3L466.9 343.0L467.1 343.0L467.5 343.6L468.3 345.6L469.6 351.6L470.0 352.6L471.1 354.7L472.1 356.1L473.0 357.0L473.6 357.4L474.2 357.6L476.3 358.2L478.2 358.7L480.3 359.1L482.2 359.2L512.4 359.2" fill="none" stroke="#3674c4" stroke-width="2.6" stroke-linecap="round" stroke-linejoin="round"/>
<path d="M417.0 558.0L436.7 558.0L438.8 557.8L440.7 557.5L442.3 556.9L443.8 556.3L445.5 555.4L446.4 554.8L446.8 554.3L447.4 553.0L448.3 550.0L449.4 544.9L450.0 540.9L450.7 532.8L451.6 520.2L452.2 509.0L455.0 446.0L455.9 431.5L458.2 402.6L458.5 398.9L459.1 394.9L459.8 390.4L460.8 385.6L461.5 382.4L462.3 379.8L463.0 377.7L463.9 375.5L465.2 372.9L466.6 370.7L467.9 368.9L469.3 367.2L470.5 366.3L472.7 365.0L474.9 363.9L477.4 362.9L480.2 362.1L483.1 361.4L489.1 360.3L493.8 359.6L499.0 359.3L510.0 359.2" fill="none" stroke="#c9968f" stroke-width="2.6" stroke-linecap="round" stroke-linejoin="round"/>
<path d="M417.0 558.0L418.2 558.0L418.5 557.5L419.0 553.3L419.5 548.1L419.6 544.8L420.0 524.3L420.7 462.5L421.1 438.8L421.8 416.3L422.6 399.7L423.3 388.4L424.1 382.0L424.8 377.1L425.6 373.1L426.3 370.1L427.1 368.0L427.5 367.2L428.4 366.0L430.0 364.2L431.7 362.9L433.8 361.8L436.0 360.9L438.2 360.2L445.3 358.6L448.3 358.0L450.0 357.4L450.3 357.0L450.9 355.9L452.6 351.7L453.3 349.4L453.5 349.0L453.8 348.7L454.1 348.9L454.3 349.2L455.1 351.3L455.9 355.1L456.3 356.3L457.2 357.5L458.0 358.3L458.9 359.0L459.7 359.2L510.0 359.2" fill="none" stroke="#c9968f" stroke-width="2.6" stroke-linecap="round" stroke-linejoin="round"/>
<line x1="416.30" y1="563.00" x2="416.30" y2="568.25" stroke="#000" stroke-width="2" stroke-linecap="butt"/>
<text x="416.30" y="580.60" font-size="12.8" text-anchor="middle" fill="#000" font-weight="bold">0</text>
<line x1="466.05" y1="563.00" x2="466.05" y2="568.25" stroke="#000" stroke-width="2" stroke-linecap="butt"/>
<text x="466.05" y="580.60" font-size="12.8" text-anchor="middle" fill="#000" font-weight="bold">20</text>
<line x1="515.80" y1="563.00" x2="515.80" y2="568.25" stroke="#000" stroke-width="2" stroke-linecap="butt"/>
<text x="515.80" y="580.60" font-size="12.8" text-anchor="middle" fill="#000" font-weight="bold">40</text>
<line x1="565.55" y1="563.00" x2="565.55" y2="568.25" stroke="#000" stroke-width="2" stroke-linecap="butt"/>
<text x="565.55" y="580.60" font-size="12.8" text-anchor="middle" fill="#000" font-weight="bold">60</text>
<line x1="615.30" y1="563.00" x2="615.30" y2="568.25" stroke="#000" stroke-width="2" stroke-linecap="butt"/>
<text x="615.30" y="580.60" font-size="12.8" text-anchor="middle" fill="#000" font-weight="bold">80</text>
<line x1="665.05" y1="563.00" x2="665.05" y2="568.25" stroke="#000" stroke-width="2" stroke-linecap="butt"/>
<text x="665.05" y="580.60" font-size="12.8" text-anchor="middle" fill="#000" font-weight="bold">100</text>
<line x1="441.18" y1="563.00" x2="441.18" y2="565.85" stroke="#000" stroke-width="2" stroke-linecap="butt"/>
<line x1="490.93" y1="563.00" x2="490.93" y2="565.85" stroke="#000" stroke-width="2" stroke-linecap="butt"/>
<line x1="540.67" y1="563.00" x2="540.67" y2="565.85" stroke="#000" stroke-width="2" stroke-linecap="butt"/>
<line x1="590.42" y1="563.00" x2="590.42" y2="565.85" stroke="#000" stroke-width="2" stroke-linecap="butt"/>
<line x1="640.17" y1="563.00" x2="640.17" y2="565.85" stroke="#000" stroke-width="2" stroke-linecap="butt"/>
<line x1="689.92" y1="563.00" x2="689.92" y2="565.85" stroke="#000" stroke-width="2" stroke-linecap="butt"/>
<line x1="407.15" y1="558.00" x2="411.60" y2="558.00" stroke="#000" stroke-width="2" stroke-linecap="butt"/>
<text x="403.30" y="561.80" font-size="12.8" text-anchor="end" fill="#000" font-weight="bold">0.0</text>
<line x1="407.15" y1="518.25" x2="411.60" y2="518.25" stroke="#000" stroke-width="2" stroke-linecap="butt"/>
<text x="403.30" y="522.05" font-size="12.8" text-anchor="end" fill="#000" font-weight="bold">0.2</text>
<line x1="407.15" y1="478.50" x2="411.60" y2="478.50" stroke="#000" stroke-width="2" stroke-linecap="butt"/>
<text x="403.30" y="482.30" font-size="12.8" text-anchor="end" fill="#000" font-weight="bold">0.4</text>
<line x1="407.15" y1="438.75" x2="411.60" y2="438.75" stroke="#000" stroke-width="2" stroke-linecap="butt"/>
<text x="403.30" y="442.55" font-size="12.8" text-anchor="end" fill="#000" font-weight="bold">0.6</text>
<line x1="407.15" y1="399.00" x2="411.60" y2="399.00" stroke="#000" stroke-width="2" stroke-linecap="butt"/>
<text x="403.30" y="402.80" font-size="12.8" text-anchor="end" fill="#000" font-weight="bold">0.8</text>
<line x1="407.15" y1="359.25" x2="411.60" y2="359.25" stroke="#000" stroke-width="2" stroke-linecap="butt"/>
<text x="403.30" y="363.05" font-size="12.8" text-anchor="end" fill="#000" font-weight="bold">1.0</text>
<line x1="408.85" y1="538.12" x2="411.60" y2="538.12" stroke="#000" stroke-width="2" stroke-linecap="butt"/>
<line x1="408.85" y1="498.38" x2="411.60" y2="498.38" stroke="#000" stroke-width="2" stroke-linecap="butt"/>
<line x1="408.85" y1="458.62" x2="411.60" y2="458.62" stroke="#000" stroke-width="2" stroke-linecap="butt"/>
<line x1="408.85" y1="418.88" x2="411.60" y2="418.88" stroke="#000" stroke-width="2" stroke-linecap="butt"/>
<line x1="408.85" y1="379.12" x2="411.60" y2="379.12" stroke="#000" stroke-width="2" stroke-linecap="butt"/>
<line x1="408.85" y1="339.38" x2="411.60" y2="339.38" stroke="#000" stroke-width="2" stroke-linecap="butt"/>
<rect x="411.60" y="328.80" width="290.90" height="234.20" fill="none" stroke="#000" stroke-width="2.5"/>
<line x1="608.50" y1="377.50" x2="637.00" y2="377.50" stroke="#c8475a" stroke-width="2.6" stroke-linecap="round"/>
<text x="640.00" y="382.10" font-size="13" text-anchor="start" fill="#000" font-weight="bold">2 mL/min</text>
<line x1="608.50" y1="394.30" x2="637.00" y2="394.30" stroke="#cbb26e" stroke-width="2.6" stroke-linecap="round"/>
<text x="640.00" y="398.90" font-size="13" text-anchor="start" fill="#000" font-weight="bold">4 mL/min</text>
<line x1="608.50" y1="411.00" x2="637.00" y2="411.00" stroke="#3674c4" stroke-width="2.6" stroke-linecap="round"/>
<text x="640.00" y="415.60" font-size="13" text-anchor="start" fill="#000" font-weight="bold">6 mL/min</text>
<line x1="608.50" y1="427.60" x2="637.00" y2="427.60" stroke="#c9968f" stroke-width="2.6" stroke-linecap="round"/>
<text x="640.00" y="432.20" font-size="13" text-anchor="start" fill="#000" font-weight="bold">8 mL/min</text>
<text x="557.00" y="604.40" font-size="14.3" text-anchor="middle" fill="#000" font-weight="bold">Time (min/g)</text>
<text x="369.60" y="440.00" font-size="14.3" text-anchor="middle" fill="#000" font-weight="bold" transform="rotate(-90 369.60 440.00)">F/F<tspan dy="2.6" font-size="10">0</tspan><tspan dy="-2.6" font-size="1">&#8203;</tspan></text>
<text x="358.50" y="329.50" font-size="25" text-anchor="start" fill="#000" font-weight="bold">(d)</text>
<path d="M776.6 558.0L880.9 558.0L888.7 557.8L899.2 557.1L903.1 556.5L907.1 555.8L912.6 554.5L916.0 553.6L919.3 552.3L921.0 551.5L922.1 550.8L923.8 549.5L924.9 548.3L926.0 546.7L926.6 545.4L927.7 542.3L929.3 536.6L930.5 532.2L931.6 526.9L932.7 520.4L933.8 512.3L935.3 496.2L937.2 479.5L938.3 470.5L939.9 458.7L941.6 448.6L943.8 436.9L946.1 426.0L948.3 415.9L951.1 404.6L951.9 402.0L953.3 398.1L955.0 394.2L956.7 390.9L958.3 388.0L960.6 384.5L962.8 381.6L965.6 378.7L968.4 376.2L971.7 373.8L976.2 371.2L981.2 368.7L985.6 367.0L990.1 365.7L995.7 364.3L1006.8 362.2L1013.0 361.3L1018.5 360.6L1027.5 359.9L1038.6 359.4L1044.2 359.3L1054.8 359.2" fill="none" stroke="#c8475a" stroke-width="2.6" stroke-linecap="round" stroke-linejoin="round"/>
<path d="M776.6 558.0L781.5 558.0L782.2 557.5L782.7 556.4L783.3 554.8L784.4 551.1L785.0 548.8L786.1 542.5L787.2 534.3L787.8 529.4L788.3 522.6L789.4 506.4L790.6 493.7L792.2 477.9L794.5 459.1L796.9 436.0L798.9 418.5L800.0 409.9L801.7 399.2L803.4 390.3L804.4 385.9L806.2 379.4L807.8 374.4L808.9 371.7L810.6 368.6L812.8 365.1L814.0 363.7L815.1 362.4L816.8 361.0L819.0 359.6L821.2 358.4L823.4 357.4L825.1 356.9L826.8 356.5L830.1 356.0L837.4 355.4L848.5 354.9L862.5 354.5L910.4 354.3L917.8 354.3L918.8 354.2L919.9 353.8L921.0 353.4L922.9 352.3L923.8 351.7L925.4 349.7L928.2 345.7L932.1 340.8L932.7 340.2L933.8 339.4L934.9 338.8L935.3 338.8L936.0 339.1L937.7 340.7L940.5 344.5L943.3 348.0L945.0 349.8L946.6 351.2L948.3 352.2L950.0 353.1L953.3 354.4L957.2 355.5L962.2 356.5L966.7 357.1L972.8 357.7L980.1 358.1L988.4 358.4L1001.3 358.7L1017.4 358.9L1054.8 359.2" fill="none" stroke="#c8475a" stroke-width="2.6" stroke-linecap="round" stroke-linejoin="round"/>
<path d="M776.6 558.0L851.3 558.0L861.9 557.7L874.5 557.0L885.6 556.1L890.6 555.7L896.7 554.8L902.3 553.8L905.8 552.9L908.8 551.7L912.1 550.0L913.4 549.3L914.4 548.5L915.4 547.6L916.4 546.4L917.4 544.8L917.9 543.5L918.9 539.5L919.9 534.5L920.4 531.4L921.9 519.2L924.0 500.9L925.0 490.0L927.0 465.8L928.0 457.0L929.5 445.9L931.5 433.0L936.6 403.6L937.6 398.4L938.1 396.3L939.1 393.0L941.1 387.7L942.1 385.6L943.6 382.8L944.6 381.3L946.2 379.3L948.7 376.4L951.2 373.9L953.7 372.0L957.8 369.6L961.8 367.5L965.8 365.8L969.9 364.5L973.9 363.5L980.5 362.3L986.5 361.5L992.6 360.8L1000.1 360.3L1012.2 359.6L1020.8 359.3L1028.4 359.2" fill="none" stroke="#cbb26e" stroke-width="2.6" stroke-linecap="round" stroke-linejoin="round"/>
<path d="M776.6 558.0L783.9 558.0L784.2 557.8L784.7 557.0L785.2 555.5L786.4 550.0L786.7 548.1L787.2 541.9L787.7 533.4L790.7 475.1L791.6 460.6L793.8 432.9L794.8 422.2L795.8 413.3L797.3 403.4L798.8 395.2L800.3 388.8L801.8 383.9L803.4 379.7L804.4 377.3L805.4 375.1L806.4 373.2L807.4 371.6L808.4 370.3L809.9 368.8L811.4 367.5L813.5 366.0L815.5 364.8L817.5 363.8L819.5 363.0L823.0 361.9L826.6 360.9L830.1 360.1L833.1 359.7L843.7 359.0L856.3 358.5L875.5 357.9L902.8 357.6L909.8 357.3L915.4 357.0L915.9 356.9L916.9 356.1L918.4 354.2L920.9 350.3L924.0 344.1L925.5 342.1L926.0 341.6L926.5 341.4L927.0 341.5L927.5 341.9L929.0 343.9L930.0 345.8L931.5 349.2L932.5 351.0L934.0 352.8L935.6 354.3L937.6 356.1L939.1 357.0L940.5 357.5L943.6 358.1L947.2 358.6L950.2 358.9L953.2 359.1L956.2 359.2L1028.4 359.2" fill="none" stroke="#cbb26e" stroke-width="2.6" stroke-linecap="round" stroke-linejoin="round"/>
<path d="M776.6 558.0L835.5 557.9L844.3 557.7L853.2 557.4L860.7 557.0L864.2 556.6L868.2 555.9L873.1 554.8L876.2 553.8L879.7 552.3L883.2 550.7L886.3 548.9L893.0 544.7L896.5 542.7L898.7 541.0L900.0 539.7L900.9 538.7L901.8 537.3L902.7 535.6L903.8 532.6L904.0 531.6L904.5 528.6L913.3 442.6L914.6 431.7L917.3 411.4L918.2 405.4L919.5 399.5L920.8 394.9L924.8 382.7L925.7 380.4L926.6 378.4L927.9 376.2L929.7 373.7L931.5 371.7L933.7 369.7L937.2 367.1L940.3 365.2L943.4 363.6L946.1 362.7L949.6 362.0L954.5 361.2L958.9 360.7L963.8 360.3L981.4 359.5L997.4 359.2" fill="none" stroke="#3674c4" stroke-width="2.6" stroke-linecap="round" stroke-linejoin="round"/>
<path d="M776.6 558.0L782.8 558.0L783.3 557.7L783.7 556.9L784.1 555.6L784.6 553.9L785.5 549.7L785.9 545.7L786.8 531.6L788.6 497.0L789.9 468.6L790.3 461.2L791.2 449.1L792.5 433.4L793.4 424.4L794.3 416.6L795.2 409.9L797.0 399.5L798.7 391.0L800.1 386.1L802.3 380.0L804.5 375.0L805.8 372.7L806.7 371.4L807.6 370.3L808.5 369.4L810.2 367.9L812.5 366.4L814.7 365.2L816.9 364.2L820.4 363.1L824.0 362.1L827.5 361.3L831.0 360.7L836.8 360.2L845.6 359.6L872.6 358.6L888.5 358.1L894.7 357.7L898.3 357.3L899.2 357.0L900.5 356.2L901.8 355.1L903.6 353.3L905.8 350.7L908.9 345.0L909.5 344.3L910.7 343.3L911.1 343.0L911.5 343.0L912.0 343.1L912.4 343.6L913.8 345.6L914.6 347.5L916.0 351.0L916.7 352.5L918.6 355.1L920.0 356.6L921.3 357.7L922.6 358.5L925.7 359.5L928.4 360.2L931.5 360.6L936.3 360.6L957.0 360.0L997.4 359.2" fill="none" stroke="#3674c4" stroke-width="2.6" stroke-linecap="round" stroke-linejoin="round"/>
<line x1="776.10" y1="563.30" x2="776.10" y2="568.55" stroke="#000" stroke-width="2" stroke-linecap="butt"/>
<text x="776.10" y="580.90" font-size="12.8" text-anchor="middle" fill="#000" font-weight="bold">0</text>
<line x1="827.80" y1="563.30" x2="827.80" y2="568.55" stroke="#000" stroke-width="2" stroke-linecap="butt"/>
<text x="827.80" y="580.90" font-size="12.8" text-anchor="middle" fill="#000" font-weight="bold">10</text>
<line x1="879.50" y1="563.30" x2="879.50" y2="568.55" stroke="#000" stroke-width="2" stroke-linecap="butt"/>
<text x="879.50" y="580.90" font-size="12.8" text-anchor="middle" fill="#000" font-weight="bold">20</text>
<line x1="931.20" y1="563.30" x2="931.20" y2="568.55" stroke="#000" stroke-width="2" stroke-linecap="butt"/>
<text x="931.20" y="580.90" font-size="12.8" text-anchor="middle" fill="#000" font-weight="bold">30</text>
<line x1="982.90" y1="563.30" x2="982.90" y2="568.55" stroke="#000" stroke-width="2" stroke-linecap="butt"/>
<text x="982.90" y="580.90" font-size="12.8" text-anchor="middle" fill="#000" font-weight="bold">40</text>
<line x1="1034.60" y1="563.30" x2="1034.60" y2="568.55" stroke="#000" stroke-width="2" stroke-linecap="butt"/>
<text x="1034.60" y="580.90" font-size="12.8" text-anchor="middle" fill="#000" font-weight="bold">50</text>
<line x1="801.95" y1="563.30" x2="801.95" y2="566.15" stroke="#000" stroke-width="2" stroke-linecap="butt"/>
<line x1="853.65" y1="563.30" x2="853.65" y2="566.15" stroke="#000" stroke-width="2" stroke-linecap="butt"/>
<line x1="905.35" y1="563.30" x2="905.35" y2="566.15" stroke="#000" stroke-width="2" stroke-linecap="butt"/>
<line x1="957.05" y1="563.30" x2="957.05" y2="566.15" stroke="#000" stroke-width="2" stroke-linecap="butt"/>
<line x1="1008.75" y1="563.30" x2="1008.75" y2="566.15" stroke="#000" stroke-width="2" stroke-linecap="butt"/>
<line x1="1060.45" y1="563.30" x2="1060.45" y2="566.15" stroke="#000" stroke-width="2" stroke-linecap="butt"/>
<line x1="766.15" y1="558.00" x2="770.60" y2="558.00" stroke="#000" stroke-width="2" stroke-linecap="butt"/>
<text x="762.30" y="561.80" font-size="12.8" text-anchor="end" fill="#000" font-weight="bold">0.0</text>
<line x1="766.15" y1="518.25" x2="770.60" y2="518.25" stroke="#000" stroke-width="2" stroke-linecap="butt"/>
<text x="762.30" y="522.05" font-size="12.8" text-anchor="end" fill="#000" font-weight="bold">0.2</text>
<line x1="766.15" y1="478.50" x2="770.60" y2="478.50" stroke="#000" stroke-width="2" stroke-linecap="butt"/>
<text x="762.30" y="482.30" font-size="12.8" text-anchor="end" fill="#000" font-weight="bold">0.4</text>
<line x1="766.15" y1="438.75" x2="770.60" y2="438.75" stroke="#000" stroke-width="2" stroke-linecap="butt"/>
<text x="762.30" y="442.55" font-size="12.8" text-anchor="end" fill="#000" font-weight="bold">0.6</text>
<line x1="766.15" y1="399.00" x2="770.60" y2="399.00" stroke="#000" stroke-width="2" stroke-linecap="butt"/>
<text x="762.30" y="402.80" font-size="12.8" text-anchor="end" fill="#000" font-weight="bold">0.8</text>
<line x1="766.15" y1="359.25" x2="770.60" y2="359.25" stroke="#000" stroke-width="2" stroke-linecap="butt"/>
<text x="762.30" y="363.05" font-size="12.8" text-anchor="end" fill="#000" font-weight="bold">1.0</text>
<line x1="767.85" y1="538.12" x2="770.60" y2="538.12" stroke="#000" stroke-width="2" stroke-linecap="butt"/>
<line x1="767.85" y1="498.38" x2="770.60" y2="498.38" stroke="#000" stroke-width="2" stroke-linecap="butt"/>
<line x1="767.85" y1="458.62" x2="770.60" y2="458.62" stroke="#000" stroke-width="2" stroke-linecap="butt"/>
<line x1="767.85" y1="418.88" x2="770.60" y2="418.88" stroke="#000" stroke-width="2" stroke-linecap="butt"/>
<line x1="767.85" y1="379.12" x2="770.60" y2="379.12" stroke="#000" stroke-width="2" stroke-linecap="butt"/>
<line x1="767.85" y1="339.38" x2="770.60" y2="339.38" stroke="#000" stroke-width="2" stroke-linecap="butt"/>
<rect x="770.60" y="328.80" width="290.10" height="234.50" fill="none" stroke="#000" stroke-width="2.5"/>
<line x1="988.50" y1="377.50" x2="1015.50" y2="377.50" stroke="#c8475a" stroke-width="2.6" stroke-linecap="round"/>
<text x="1019.50" y="382.10" font-size="13" text-anchor="start" fill="#000" font-weight="bold">298 K</text>
<line x1="988.50" y1="394.30" x2="1015.50" y2="394.30" stroke="#cbb26e" stroke-width="2.6" stroke-linecap="round"/>
<text x="1019.50" y="398.90" font-size="13" text-anchor="start" fill="#000" font-weight="bold">313 K</text>
<line x1="988.50" y1="410.80" x2="1015.50" y2="410.80" stroke="#3674c4" stroke-width="2.6" stroke-linecap="round"/>
<text x="1019.50" y="415.40" font-size="13" text-anchor="start" fill="#000" font-weight="bold">333 K</text>
<text x="915.80" y="604.40" font-size="14.3" text-anchor="middle" fill="#000" font-weight="bold">Time (min/g)</text>
<text x="728.60" y="440.00" font-size="14.3" text-anchor="middle" fill="#000" font-weight="bold" transform="rotate(-90 728.60 440.00)">F/F<tspan dy="2.6" font-size="10">0</tspan><tspan dy="-2.6" font-size="1">&#8203;</tspan></text>
<text x="718.50" y="329.50" font-size="25" text-anchor="start" fill="#000" font-weight="bold">(e)</text>
<path d="M58.0 868.3L155.6 868.3L162.8 868.1L172.9 867.3L176.2 866.9L180.1 866.1L185.1 864.9L188.5 863.9L191.8 862.5L194.1 861.2L195.7 859.8L196.9 858.5L197.4 857.7L198.0 856.7L198.5 855.3L199.6 851.7L201.3 845.5L203.0 837.6L204.1 830.6L205.1 822.6L206.6 806.5L208.0 792.2L209.1 782.3L210.8 769.5L211.9 762.1L214.1 749.3L216.3 738.1L218.6 726.7L221.4 714.6L222.1 712.3L223.6 707.8L225.3 703.8L227.0 700.4L228.6 697.4L230.9 694.1L232.0 692.6L233.7 690.7L236.5 688.1L239.2 685.9L242.6 683.8L247.6 681.2L251.5 679.5L256.5 677.9L262.1 676.4L273.8 673.8L280.0 672.6L290.6 670.9L296.1 670.2L302.8 669.7L307.8 669.6L336.3 669.5" fill="none" stroke="#c8475a" stroke-width="2.9" stroke-linecap="round" stroke-linejoin="round"/>
<path d="M58.0 868.3L62.6 868.3L63.0 868.1L63.6 867.1L64.1 865.5L65.2 861.5L65.8 859.2L66.9 852.5L68.0 843.5L68.6 837.8L70.3 813.0L71.4 800.4L72.5 789.2L74.7 769.1L76.9 746.4L78.6 730.9L79.7 721.5L81.4 709.9L83.1 700.3L84.2 695.3L85.9 688.9L87.0 685.3L88.1 682.3L89.8 678.9L92.0 675.3L93.7 673.1L94.8 671.9L95.7 671.1L97.6 669.9L99.8 668.6L102.0 667.6L103.7 667.1L105.2 666.8L108.7 666.3L115.4 665.6L126.0 665.1L138.9 664.8L181.2 664.7L190.7 664.5L191.8 664.2L193.0 663.8L195.0 662.6L195.7 662.0L196.9 660.7L200.2 655.6L203.5 651.1L204.1 650.5L205.2 649.7L205.8 649.3L206.6 649.1L206.9 649.2L207.5 649.5L208.6 650.7L209.1 651.4L211.4 654.8L214.1 658.5L215.8 660.4L217.2 661.6L220.3 663.4L222.0 664.2L223.6 664.8L228.1 666.0L233.1 667.0L237.6 667.6L245.4 668.2L252.1 668.6L263.8 668.9L302.8 669.5L336.3 669.5" fill="none" stroke="#c8475a" stroke-width="2.9" stroke-linecap="round" stroke-linejoin="round"/>
<path d="M58.0 868.3L131.6 868.3L140.0 867.9L151.1 867.0L155.6 866.3L160.0 865.4L165.6 863.9L169.0 862.8L173.4 860.9L179.0 858.2L182.9 856.1L186.3 853.9L189.0 851.7L190.7 850.3L192.4 848.6L194.0 846.4L194.6 845.3L195.7 842.9L196.9 839.7L198.0 836.1L198.5 834.0L199.6 828.9L200.8 822.6L201.3 818.6L202.7 806.5L205.2 786.2L207.5 771.5L209.1 761.9L211.2 751.0L213.0 741.9L215.3 731.6L216.9 724.4L219.2 715.5L220.1 712.3L221.4 708.8L223.1 704.7L225.3 700.3L227.5 696.6L228.6 694.9L230.3 692.8L231.7 691.1L233.1 689.8L235.9 687.4L239.2 685.0L243.1 682.9L247.6 680.8L251.5 679.2L256.5 677.7L262.7 676.3L268.5 675.1L274.3 673.7L280.5 672.5L290.6 670.9L296.1 670.2L302.8 669.7L307.8 669.6L336.3 669.5" fill="none" stroke="#cbb26e" stroke-width="2.9" stroke-linecap="round" stroke-linejoin="round"/>
<path d="M58.0 868.3L66.3 868.3L66.9 867.8L67.5 866.7L68.0 865.2L69.1 861.5L69.7 859.0L70.8 851.8L71.9 842.3L72.5 836.5L74.7 804.7L77.5 761.4L78.6 747.0L79.7 735.7L80.9 725.5L82.5 712.5L83.6 705.3L85.3 696.3L87.0 688.6L88.1 684.7L88.7 683.2L89.8 680.8L90.9 678.8L92.0 677.0L93.7 674.8L94.8 673.7L95.9 672.7L98.1 671.3L100.4 670.2L102.6 669.2L105.4 668.2L107.6 667.7L111.5 667.0L116.0 666.4L119.9 666.0L124.4 665.8L132.2 665.7L173.4 665.4L188.5 665.1L189.6 664.9L191.3 664.3L195.2 662.5L196.9 661.4L199.6 659.4L202.4 657.5L203.0 657.2L203.7 657.0L204.7 657.3L206.6 658.6L207.5 659.5L209.1 661.7L210.0 662.6L213.0 665.2L215.3 666.7L216.9 667.5L219.7 668.2L223.1 668.9L226.4 669.4L229.8 669.5L336.3 669.5" fill="none" stroke="#cbb26e" stroke-width="2.9" stroke-linecap="round" stroke-linejoin="round"/>
<line x1="57.50" y1="873.60" x2="57.50" y2="878.85" stroke="#000" stroke-width="2" stroke-linecap="butt"/>
<text x="57.50" y="891.20" font-size="12.8" text-anchor="middle" fill="#000" font-weight="bold">0</text>
<line x1="105.90" y1="873.60" x2="105.90" y2="878.85" stroke="#000" stroke-width="2" stroke-linecap="butt"/>
<text x="105.90" y="891.20" font-size="12.8" text-anchor="middle" fill="#000" font-weight="bold">10</text>
<line x1="154.30" y1="873.60" x2="154.30" y2="878.85" stroke="#000" stroke-width="2" stroke-linecap="butt"/>
<text x="154.30" y="891.20" font-size="12.8" text-anchor="middle" fill="#000" font-weight="bold">20</text>
<line x1="202.70" y1="873.60" x2="202.70" y2="878.85" stroke="#000" stroke-width="2" stroke-linecap="butt"/>
<text x="202.70" y="891.20" font-size="12.8" text-anchor="middle" fill="#000" font-weight="bold">30</text>
<line x1="251.10" y1="873.60" x2="251.10" y2="878.85" stroke="#000" stroke-width="2" stroke-linecap="butt"/>
<text x="251.10" y="891.20" font-size="12.8" text-anchor="middle" fill="#000" font-weight="bold">40</text>
<line x1="299.50" y1="873.60" x2="299.50" y2="878.85" stroke="#000" stroke-width="2" stroke-linecap="butt"/>
<text x="299.50" y="891.20" font-size="12.8" text-anchor="middle" fill="#000" font-weight="bold">50</text>
<line x1="81.70" y1="873.60" x2="81.70" y2="876.45" stroke="#000" stroke-width="2" stroke-linecap="butt"/>
<line x1="130.10" y1="873.60" x2="130.10" y2="876.45" stroke="#000" stroke-width="2" stroke-linecap="butt"/>
<line x1="178.50" y1="873.60" x2="178.50" y2="876.45" stroke="#000" stroke-width="2" stroke-linecap="butt"/>
<line x1="226.90" y1="873.60" x2="226.90" y2="876.45" stroke="#000" stroke-width="2" stroke-linecap="butt"/>
<line x1="275.30" y1="873.60" x2="275.30" y2="876.45" stroke="#000" stroke-width="2" stroke-linecap="butt"/>
<line x1="323.70" y1="873.60" x2="323.70" y2="876.45" stroke="#000" stroke-width="2" stroke-linecap="butt"/>
<line x1="49.15" y1="868.30" x2="53.60" y2="868.30" stroke="#000" stroke-width="2" stroke-linecap="butt"/>
<text x="45.30" y="872.10" font-size="12.8" text-anchor="end" fill="#000" font-weight="bold">0.0</text>
<line x1="49.15" y1="828.55" x2="53.60" y2="828.55" stroke="#000" stroke-width="2" stroke-linecap="butt"/>
<text x="45.30" y="832.35" font-size="12.8" text-anchor="end" fill="#000" font-weight="bold">0.2</text>
<line x1="49.15" y1="788.80" x2="53.60" y2="788.80" stroke="#000" stroke-width="2" stroke-linecap="butt"/>
<text x="45.30" y="792.60" font-size="12.8" text-anchor="end" fill="#000" font-weight="bold">0.4</text>
<line x1="49.15" y1="749.05" x2="53.60" y2="749.05" stroke="#000" stroke-width="2" stroke-linecap="butt"/>
<text x="45.30" y="752.85" font-size="12.8" text-anchor="end" fill="#000" font-weight="bold">0.6</text>
<line x1="49.15" y1="709.30" x2="53.60" y2="709.30" stroke="#000" stroke-width="2" stroke-linecap="butt"/>
<text x="45.30" y="713.10" font-size="12.8" text-anchor="end" fill="#000" font-weight="bold">0.8</text>
<line x1="49.15" y1="669.55" x2="53.60" y2="669.55" stroke="#000" stroke-width="2" stroke-linecap="butt"/>
<text x="45.30" y="673.35" font-size="12.8" text-anchor="end" fill="#000" font-weight="bold">1.0</text>
<line x1="50.85" y1="848.42" x2="53.60" y2="848.42" stroke="#000" stroke-width="2" stroke-linecap="butt"/>
<line x1="50.85" y1="808.67" x2="53.60" y2="808.67" stroke="#000" stroke-width="2" stroke-linecap="butt"/>
<line x1="50.85" y1="768.92" x2="53.60" y2="768.92" stroke="#000" stroke-width="2" stroke-linecap="butt"/>
<line x1="50.85" y1="729.17" x2="53.60" y2="729.17" stroke="#000" stroke-width="2" stroke-linecap="butt"/>
<line x1="50.85" y1="689.42" x2="53.60" y2="689.42" stroke="#000" stroke-width="2" stroke-linecap="butt"/>
<line x1="50.85" y1="649.67" x2="53.60" y2="649.67" stroke="#000" stroke-width="2" stroke-linecap="butt"/>
<rect x="53.60" y="639.80" width="289.30" height="233.80" fill="none" stroke="#000" stroke-width="2.5"/>
<line x1="260.30" y1="686.50" x2="287.50" y2="686.50" stroke="#c8475a" stroke-width="3.2" stroke-linecap="round"/>
<text x="291.30" y="691.10" font-size="13" text-anchor="start" fill="#000" font-weight="bold">RH 0%</text>
<line x1="260.30" y1="703.00" x2="287.50" y2="703.00" stroke="#cbb26e" stroke-width="3.2" stroke-linecap="round"/>
<text x="291.30" y="707.60" font-size="13" text-anchor="start" fill="#000" font-weight="bold">RH 50%</text>
<text x="198.00" y="915.90" font-size="14.3" text-anchor="middle" fill="#000" font-weight="bold">Time (min/g)</text>
<text x="9.80" y="751.00" font-size="14.3" text-anchor="middle" fill="#000" font-weight="bold" transform="rotate(-90 9.80 751.00)">F/F<tspan dy="2.6" font-size="10">0</tspan><tspan dy="-2.6" font-size="1">&#8203;</tspan></text>
<text x="0.50" y="639.50" font-size="25" text-anchor="start" fill="#000" font-weight="bold">(f)</text>
<path d="M415.9 865.3L425.1 865.3L425.8 865.1L426.7 864.4L427.4 863.3L428.2 861.2L428.7 858.9L429.0 856.5L429.1 853.8L429.6 836.6L430.3 775.6L431.0 735.7L431.5 719.7L432.2 707.6L432.7 702.0L433.2 697.9L434.0 693.9L434.4 692.3L434.9 690.9L436.2 688.3L436.9 687.3L437.5 686.7L438.2 686.3L439.2 685.8L441.3 685.8" fill="none" stroke="#cbb26e" stroke-width="2.6" stroke-linecap="round" stroke-linejoin="round"/>
<path d="M415.9 865.3L416.4 865.3L416.5 864.5L416.8 852.6L417.7 755.1L418.3 714.3L418.8 696.8L419.1 690.8L419.5 687.2L419.9 685.0L420.2 683.6L420.7 682.9L421.3 682.3L422.3 681.8L423.5 681.5L427.5 681.4L428.4 681.3L428.8 679.0L429.6 669.4L429.9 667.3L430.9 678.6L431.4 681.4L431.8 682.6L432.3 683.5L432.7 684.0L433.4 684.6L434.0 684.9L434.9 685.2L436.2 685.4L438.4 685.7L441.3 685.8" fill="none" stroke="#c8475a" stroke-width="2.6" stroke-linecap="round" stroke-linejoin="round"/>
<path d="M447.8 865.3L456.9 865.3L457.6 865.1L458.6 864.4L459.2 863.3L460.0 861.2L460.5 858.9L460.8 856.5L461.0 853.8L461.4 836.6L462.1 775.6L462.9 735.7L463.3 719.7L464.0 707.6L464.5 702.0L465.1 697.9L465.8 693.9L466.3 692.3L466.8 690.9L468.1 688.3L468.7 687.3L469.3 686.7L470.0 686.3L471.1 685.8L473.1 685.8" fill="none" stroke="#cbb26e" stroke-width="2.6" stroke-linecap="round" stroke-linejoin="round"/>
<path d="M447.8 865.3L448.2 865.3L448.3 864.5L448.6 852.6L449.6 755.1L450.1 714.3L450.6 696.8L451.0 690.8L451.3 687.2L451.7 685.0L452.1 683.6L452.5 682.9L453.1 682.3L454.1 681.8L455.4 681.5L459.4 681.4L460.2 681.3L460.7 679.0L461.4 669.4L461.7 667.3L462.7 678.6L463.3 681.4L463.7 682.6L464.2 683.5L464.6 684.0L465.3 684.6L465.9 684.9L466.8 685.2L468.0 685.4L470.2 685.7L473.1 685.8" fill="none" stroke="#c8475a" stroke-width="2.6" stroke-linecap="round" stroke-linejoin="round"/>
<path d="M479.6 865.3L488.8 865.3L489.4 865.1L490.4 864.4L491.1 863.3L491.9 861.2L492.4 858.9L492.6 856.5L492.8 853.8L493.2 836.6L494.0 775.6L494.7 735.7L495.2 719.7L495.9 707.6L496.4 702.0L496.9 697.9L497.7 693.9L498.1 692.3L498.6 690.9L499.9 688.3L500.6 687.3L501.2 686.7L501.9 686.3L502.9 685.8L505.0 685.8" fill="none" stroke="#cbb26e" stroke-width="2.6" stroke-linecap="round" stroke-linejoin="round"/>
<path d="M479.6 865.3L480.1 865.3L480.2 864.5L480.5 852.6L481.4 755.1L482.0 714.3L482.5 696.8L482.8 690.8L483.2 687.2L483.6 685.0L483.9 683.6L484.4 682.9L485.0 682.3L486.0 681.8L487.2 681.5L491.2 681.4L492.1 681.3L492.5 679.0L493.3 669.4L493.6 667.3L494.6 678.6L495.1 681.4L495.5 682.6L496.0 683.5L496.4 684.0L497.1 684.6L497.7 684.9L498.6 685.2L499.9 685.4L502.1 685.7L505.0 685.8" fill="none" stroke="#c8475a" stroke-width="2.6" stroke-linecap="round" stroke-linejoin="round"/>
<path d="M511.5 865.3L520.6 865.3L521.3 865.1L522.3 864.4L522.9 863.3L523.7 861.2L524.2 858.9L524.5 856.5L524.7 853.8L525.1 836.6L525.8 775.6L526.6 735.7L527.0 719.7L527.7 707.6L528.2 702.0L528.8 697.9L529.5 693.9L530.0 692.3L530.5 690.9L531.8 688.3L532.4 687.3L533.0 686.7L533.7 686.3L534.8 685.8L536.8 685.8" fill="none" stroke="#cbb26e" stroke-width="2.6" stroke-linecap="round" stroke-linejoin="round"/>
<path d="M511.5 865.3L511.9 865.3L512.0 864.5L512.3 852.6L513.3 755.1L513.8 714.3L514.3 696.8L514.7 690.8L515.0 687.2L515.4 685.0L515.8 683.6L516.2 682.9L516.8 682.3L517.8 681.8L519.1 681.5L523.1 681.4L523.9 681.3L524.4 679.0L525.1 669.4L525.4 667.3L526.4 678.6L527.0 681.4L527.4 682.6L527.9 683.5L528.3 684.0L529.0 684.6L529.6 684.9L530.5 685.2L531.7 685.4L533.9 685.7L536.8 685.8" fill="none" stroke="#c8475a" stroke-width="2.6" stroke-linecap="round" stroke-linejoin="round"/>
<path d="M543.3 865.3L552.5 865.3L553.1 865.1L554.1 864.4L554.8 863.3L555.6 861.2L556.1 858.9L556.3 856.5L556.5 853.8L556.9 836.6L557.7 775.6L558.4 735.7L558.9 719.7L559.5 707.6L560.1 702.0L560.6 697.9L561.4 693.9L561.8 692.3L562.3 690.9L563.6 688.3L564.3 687.3L564.9 686.7L565.6 686.3L566.6 685.8L568.7 685.8" fill="none" stroke="#cbb26e" stroke-width="2.6" stroke-linecap="round" stroke-linejoin="round"/>
<path d="M543.3 865.3L543.8 865.3L543.9 864.5L544.2 852.6L545.1 755.1L545.7 714.3L546.2 696.8L546.5 690.8L546.9 687.2L547.3 685.0L547.6 683.6L548.1 682.9L548.7 682.3L549.7 681.8L550.9 681.5L554.9 681.4L555.8 681.3L556.2 679.0L557.0 669.4L557.3 667.3L558.3 678.6L558.8 681.4L559.2 682.6L559.7 683.5L560.1 684.0L560.8 684.6L561.4 684.9L562.3 685.2L563.6 685.4L565.8 685.7L568.7 685.8" fill="none" stroke="#c8475a" stroke-width="2.6" stroke-linecap="round" stroke-linejoin="round"/>
<path d="M575.2 865.3L584.3 865.3L585.0 865.1L586.0 864.4L586.6 863.3L587.4 861.2L587.9 858.9L588.2 856.5L588.3 853.8L588.8 836.6L589.5 775.6L590.3 735.7L590.7 719.7L591.4 707.6L591.9 702.0L592.5 697.9L593.2 693.9L593.7 692.3L594.2 690.9L595.5 688.3L596.1 687.3L596.7 686.7L597.4 686.3L598.5 685.8L600.5 685.8" fill="none" stroke="#cbb26e" stroke-width="2.6" stroke-linecap="round" stroke-linejoin="round"/>
<path d="M575.2 865.3L575.6 865.3L575.7 864.5L576.0 852.6L577.0 755.1L577.5 714.3L578.0 696.8L578.4 690.8L578.7 687.2L579.1 685.0L579.5 683.6L579.9 682.9L580.5 682.3L581.5 681.8L582.8 681.5L586.8 681.4L587.6 681.3L588.1 679.0L588.8 669.4L589.1 667.3L590.1 678.6L590.7 681.4L591.1 682.6L591.6 683.5L592.0 684.0L592.7 684.6L593.3 684.9L594.2 685.2L595.4 685.4L597.6 685.7L600.5 685.8" fill="none" stroke="#c8475a" stroke-width="2.6" stroke-linecap="round" stroke-linejoin="round"/>
<path d="M607.0 865.3L616.2 865.3L616.8 865.1L617.8 864.4L618.5 863.3L619.3 861.2L619.8 858.9L620.0 856.5L620.2 853.8L620.6 836.6L621.4 775.6L622.1 735.7L622.6 719.7L623.2 707.6L623.8 702.0L624.3 697.9L625.1 693.9L625.5 692.3L626.0 690.9L627.3 688.3L628.0 687.3L628.6 686.7L629.3 686.3L630.3 685.8L632.4 685.8" fill="none" stroke="#cbb26e" stroke-width="2.6" stroke-linecap="round" stroke-linejoin="round"/>
<path d="M607.0 865.3L607.5 865.3L607.5 864.5L607.9 852.6L608.8 755.1L609.4 714.3L609.9 696.8L610.2 690.8L610.6 687.2L611.0 685.0L611.3 683.6L611.8 682.9L612.4 682.3L613.4 681.8L614.6 681.5L618.6 681.4L619.5 681.3L619.9 679.0L620.7 669.4L621.0 667.3L622.0 678.6L622.5 681.4L622.9 682.6L623.4 683.5L623.8 684.0L624.5 684.6L625.1 684.9L626.0 685.2L627.3 685.4L629.5 685.7L632.4 685.8" fill="none" stroke="#c8475a" stroke-width="2.6" stroke-linecap="round" stroke-linejoin="round"/>
<path d="M638.9 865.3L648.0 865.3L648.7 865.1L649.7 864.4L650.3 863.3L651.1 861.2L651.6 858.9L651.9 856.5L652.0 853.8L652.5 836.6L653.2 775.6L654.0 735.7L654.4 719.7L655.1 707.6L655.6 702.0L656.2 697.9L656.9 693.9L657.4 692.3L657.9 690.9L659.2 688.3L659.8 687.3L660.4 686.7L661.1 686.3L662.2 685.8L664.2 685.8" fill="none" stroke="#cbb26e" stroke-width="2.6" stroke-linecap="round" stroke-linejoin="round"/>
<path d="M638.9 865.3L639.3 865.3L639.4 864.5L639.7 852.6L640.7 755.1L641.2 714.3L641.7 696.8L642.1 690.8L642.4 687.2L642.8 685.0L643.2 683.6L643.6 682.9L644.2 682.3L645.2 681.8L646.5 681.5L650.5 681.4L651.3 681.3L651.8 679.0L652.5 669.4L652.8 667.3L653.8 678.6L654.4 681.4L654.8 682.6L655.2 683.5L655.7 684.0L656.4 684.6L657.0 684.9L657.9 685.2L659.1 685.4L661.3 685.7L664.2 685.8" fill="none" stroke="#c8475a" stroke-width="2.6" stroke-linecap="round" stroke-linejoin="round"/>
<path d="M670.7 865.3L679.9 865.3L680.5 865.1L681.5 864.4L682.2 863.3L683.0 861.2L683.5 858.9L683.7 856.5L683.9 853.8L684.3 836.6L685.1 775.6L685.8 735.7L686.3 719.7L686.9 707.6L687.5 702.0L688.0 697.9L688.8 693.9L689.2 692.3L689.7 690.9L691.0 688.3L691.7 687.3L692.3 686.7L693.0 686.3L694.0 685.8L696.1 685.8" fill="none" stroke="#cbb26e" stroke-width="2.6" stroke-linecap="round" stroke-linejoin="round"/>
<path d="M670.7 865.3L671.2 865.3L671.2 864.5L671.6 852.6L672.5 755.1L673.1 714.3L673.6 696.8L673.9 690.8L674.3 687.2L674.7 685.0L675.0 683.6L675.5 682.9L676.1 682.3L677.1 681.8L678.3 681.5L682.3 681.4L683.2 681.3L683.6 679.0L684.4 669.4L684.7 667.3L685.7 678.6L686.2 681.4L686.6 682.6L687.1 683.5L687.5 684.0L688.2 684.6L688.8 684.9L689.7 685.2L691.0 685.4L693.2 685.7L696.1 685.8" fill="none" stroke="#c8475a" stroke-width="2.6" stroke-linecap="round" stroke-linejoin="round"/>
<line x1="415.90" y1="874.20" x2="415.90" y2="879.30" stroke="#000" stroke-width="2" stroke-linecap="butt"/>
<text x="415.90" y="892.30" font-size="12.8" text-anchor="middle" fill="#000" font-weight="bold">0</text>
<line x1="461.25" y1="874.20" x2="461.25" y2="879.30" stroke="#000" stroke-width="2" stroke-linecap="butt"/>
<text x="461.25" y="892.30" font-size="12.8" text-anchor="middle" fill="#000" font-weight="bold">100</text>
<line x1="506.60" y1="874.20" x2="506.60" y2="879.30" stroke="#000" stroke-width="2" stroke-linecap="butt"/>
<text x="506.60" y="892.30" font-size="12.8" text-anchor="middle" fill="#000" font-weight="bold">200</text>
<line x1="551.95" y1="874.20" x2="551.95" y2="879.30" stroke="#000" stroke-width="2" stroke-linecap="butt"/>
<text x="551.95" y="892.30" font-size="12.8" text-anchor="middle" fill="#000" font-weight="bold">300</text>
<line x1="597.30" y1="874.20" x2="597.30" y2="879.30" stroke="#000" stroke-width="2" stroke-linecap="butt"/>
<text x="597.30" y="892.30" font-size="12.8" text-anchor="middle" fill="#000" font-weight="bold">400</text>
<line x1="642.65" y1="874.20" x2="642.65" y2="879.30" stroke="#000" stroke-width="2" stroke-linecap="butt"/>
<text x="642.65" y="892.30" font-size="12.8" text-anchor="middle" fill="#000" font-weight="bold">500</text>
<line x1="688.00" y1="874.20" x2="688.00" y2="879.30" stroke="#000" stroke-width="2" stroke-linecap="butt"/>
<text x="688.00" y="892.30" font-size="12.8" text-anchor="middle" fill="#000" font-weight="bold">600</text>
<line x1="438.57" y1="874.20" x2="438.57" y2="876.90" stroke="#000" stroke-width="2" stroke-linecap="butt"/>
<line x1="483.92" y1="874.20" x2="483.92" y2="876.90" stroke="#000" stroke-width="2" stroke-linecap="butt"/>
<line x1="529.27" y1="874.20" x2="529.27" y2="876.90" stroke="#000" stroke-width="2" stroke-linecap="butt"/>
<line x1="574.62" y1="874.20" x2="574.62" y2="876.90" stroke="#000" stroke-width="2" stroke-linecap="butt"/>
<line x1="619.98" y1="874.20" x2="619.98" y2="876.90" stroke="#000" stroke-width="2" stroke-linecap="butt"/>
<line x1="665.33" y1="874.20" x2="665.33" y2="876.90" stroke="#000" stroke-width="2" stroke-linecap="butt"/>
<line x1="407.50" y1="865.30" x2="411.80" y2="865.30" stroke="#000" stroke-width="2" stroke-linecap="butt"/>
<text x="403.50" y="869.10" font-size="12.8" text-anchor="end" fill="#000" font-weight="bold">0.0</text>
<line x1="407.50" y1="829.40" x2="411.80" y2="829.40" stroke="#000" stroke-width="2" stroke-linecap="butt"/>
<text x="403.50" y="833.20" font-size="12.8" text-anchor="end" fill="#000" font-weight="bold">0.2</text>
<line x1="407.50" y1="793.50" x2="411.80" y2="793.50" stroke="#000" stroke-width="2" stroke-linecap="butt"/>
<text x="403.50" y="797.30" font-size="12.8" text-anchor="end" fill="#000" font-weight="bold">0.4</text>
<line x1="407.50" y1="757.60" x2="411.80" y2="757.60" stroke="#000" stroke-width="2" stroke-linecap="butt"/>
<text x="403.50" y="761.40" font-size="12.8" text-anchor="end" fill="#000" font-weight="bold">0.6</text>
<line x1="407.50" y1="721.70" x2="411.80" y2="721.70" stroke="#000" stroke-width="2" stroke-linecap="butt"/>
<text x="403.50" y="725.50" font-size="12.8" text-anchor="end" fill="#000" font-weight="bold">0.8</text>
<line x1="407.50" y1="685.80" x2="411.80" y2="685.80" stroke="#000" stroke-width="2" stroke-linecap="butt"/>
<text x="403.50" y="689.60" font-size="12.8" text-anchor="end" fill="#000" font-weight="bold">1.0</text>
<line x1="407.50" y1="649.90" x2="411.80" y2="649.90" stroke="#000" stroke-width="2" stroke-linecap="butt"/>
<text x="403.50" y="653.70" font-size="12.8" text-anchor="end" fill="#000" font-weight="bold">1.2</text>
<line x1="409.20" y1="847.35" x2="411.80" y2="847.35" stroke="#000" stroke-width="2" stroke-linecap="butt"/>
<line x1="409.20" y1="811.45" x2="411.80" y2="811.45" stroke="#000" stroke-width="2" stroke-linecap="butt"/>
<line x1="409.20" y1="775.55" x2="411.80" y2="775.55" stroke="#000" stroke-width="2" stroke-linecap="butt"/>
<line x1="409.20" y1="739.65" x2="411.80" y2="739.65" stroke="#000" stroke-width="2" stroke-linecap="butt"/>
<line x1="409.20" y1="703.75" x2="411.80" y2="703.75" stroke="#000" stroke-width="2" stroke-linecap="butt"/>
<line x1="409.20" y1="667.85" x2="411.80" y2="667.85" stroke="#000" stroke-width="2" stroke-linecap="butt"/>
<rect x="411.80" y="641.30" width="289.70" height="232.90" fill="none" stroke="#000" stroke-width="2.2"/>
<text x="428.00" y="656.30" font-size="13" text-anchor="middle" fill="#000" font-weight="bold">1th</text>
<text x="459.30" y="656.30" font-size="13" text-anchor="middle" fill="#000" font-weight="bold">3th</text>
<text x="491.80" y="656.30" font-size="13" text-anchor="middle" fill="#000" font-weight="bold">5th</text>
<text x="523.00" y="656.30" font-size="13" text-anchor="middle" fill="#000" font-weight="bold">7th</text>
<text x="555.00" y="656.30" font-size="13" text-anchor="middle" fill="#000" font-weight="bold">9th</text>
<text x="585.50" y="656.30" font-size="13" text-anchor="middle" fill="#000" font-weight="bold">11th</text>
<text x="617.00" y="656.30" font-size="13" text-anchor="middle" fill="#000" font-weight="bold">13th</text>
<text x="651.50" y="656.30" font-size="13" text-anchor="middle" fill="#000" font-weight="bold">15th</text>
<text x="685.00" y="656.30" font-size="13" text-anchor="middle" fill="#000" font-weight="bold">17th</text>
<text x="557.00" y="915.90" font-size="14.3" text-anchor="middle" fill="#000" font-weight="bold">Time (min/g)</text>
<text x="369.60" y="751.00" font-size="14.3" text-anchor="middle" fill="#000" font-weight="bold" transform="rotate(-90 369.60 751.00)">F/F<tspan dy="2.6" font-size="10">0</tspan><tspan dy="-2.6" font-size="1">&#8203;</tspan></text>
<text x="358.50" y="640.00" font-size="25" text-anchor="start" fill="#000" font-weight="bold">(g)</text>
<rect x="787.30" y="815.30" width="8.00" height="8.00" fill="#7670c0" stroke="none" stroke-width="0"/>
<text x="773.30" y="812.00" font-size="13" text-anchor="start" fill="#7670c0" font-weight="bold">Cu(Qc)<tspan dy="3" font-size="9">2</tspan><tspan dy="-3" font-size="1">&#8203;</tspan></text>
<rect x="802.50" y="836.80" width="8.00" height="8.00" fill="#3a78c0" stroke="none" stroke-width="0"/>
<text x="778.50" y="860.50" font-size="13" text-anchor="start" fill="#3a78c0" font-weight="bold">[Ca<tspan dy="3" font-size="9">2</tspan><tspan dy="-3" font-size="1">&#8203;</tspan>(odp)(DMA)(H2O)<tspan dy="3" font-size="9">2</tspan><tspan dy="-3" font-size="1">&#8203;</tspan>]<tspan dy="3" font-size="9">n</tspan><tspan dy="-3" font-size="1">&#8203;</tspan></text>
<rect x="892.50" y="826.00" width="8.00" height="8.00" fill="#f08a8a" stroke="none" stroke-width="0"/>
<text x="856.30" y="823.80" font-size="13" text-anchor="start" fill="#f08a8a" font-weight="bold">PCP-NH<tspan dy="3" font-size="9">2</tspan><tspan dy="-3" font-size="1">&#8203;</tspan>-ipa</text>
<rect x="892.50" y="827.80" width="8.00" height="8.00" fill="#3da35d" stroke="none" stroke-width="0"/>
<text x="901.20" y="845.20" font-size="13" text-anchor="start" fill="#3da35d" font-weight="bold">PCP-NH<tspan dy="3" font-size="9">2</tspan><tspan dy="-3" font-size="1">&#8203;</tspan>-bdc</text>
<rect x="936.50" y="765.50" width="8.00" height="8.00" fill="#f08a3c" stroke="none" stroke-width="0"/>
<text x="927.50" y="761.80" font-size="13" text-anchor="start" fill="#f08a3c" font-weight="bold">MFU-4</text>
<rect x="943.00" y="781.30" width="8.00" height="8.00" fill="#767676" stroke="none" stroke-width="0"/>
<text x="842.80" y="790.00" font-size="13" text-anchor="start" fill="#7a7a7a" font-weight="bold">Ce<tspan dy="-4.5" font-size="9.5">IV</tspan><tspan dy="4.5" font-size="1">&#8203;</tspan>-MIL-140-4F</text>
<rect x="962.50" y="779.80" width="8.00" height="8.00" fill="#a9bdec" stroke="none" stroke-width="0"/>
<text x="972.80" y="790.00" font-size="13" text-anchor="start" fill="#a9bdec" font-weight="bold">Y-bptc</text>
<rect x="926.50" y="797.50" width="8.00" height="8.00" fill="#45acc6" stroke="none" stroke-width="0"/>
<text x="936.30" y="805.50" font-size="13" text-anchor="start" fill="#45acc6" font-weight="bold">Cd-NP</text>
<rect x="1036.00" y="757.50" width="8.00" height="8.00" fill="#c8ad64" stroke="none" stroke-width="0"/>
<text x="994.50" y="776.30" font-size="13" text-anchor="start" fill="#c8ad64" font-weight="bold">Zn-ox-mtz</text>
<polygon points="1012.00,649.40 1013.70,654.25 1018.85,654.38 1014.76,657.50 1016.23,662.42 1012.00,659.50 1007.77,662.42 1009.24,657.50 1005.15,654.38 1010.30,654.25" fill="#c0445a"/>
<text x="996.30" y="673.80" font-size="13" text-anchor="start" fill="#b5445a" font-weight="bold">K-MER</text>
<line x1="770.80" y1="873.70" x2="770.80" y2="878.95" stroke="#000" stroke-width="2" stroke-linecap="butt"/>
<text x="770.80" y="891.30" font-size="12.8" text-anchor="middle" fill="#000" font-weight="bold">0</text>
<line x1="835.20" y1="873.70" x2="835.20" y2="878.95" stroke="#000" stroke-width="2" stroke-linecap="butt"/>
<text x="835.20" y="891.30" font-size="12.8" text-anchor="middle" fill="#000" font-weight="bold">500</text>
<line x1="899.60" y1="873.70" x2="899.60" y2="878.95" stroke="#000" stroke-width="2" stroke-linecap="butt"/>
<text x="899.60" y="891.30" font-size="12.8" text-anchor="middle" fill="#000" font-weight="bold">1000</text>
<line x1="964.00" y1="873.70" x2="964.00" y2="878.95" stroke="#000" stroke-width="2" stroke-linecap="butt"/>
<text x="964.00" y="891.30" font-size="12.8" text-anchor="middle" fill="#000" font-weight="bold">1500</text>
<line x1="1028.40" y1="873.70" x2="1028.40" y2="878.95" stroke="#000" stroke-width="2" stroke-linecap="butt"/>
<text x="1028.40" y="891.30" font-size="12.8" text-anchor="middle" fill="#000" font-weight="bold">2000</text>
<line x1="803.00" y1="873.70" x2="803.00" y2="876.55" stroke="#000" stroke-width="2" stroke-linecap="butt"/>
<line x1="867.40" y1="873.70" x2="867.40" y2="876.55" stroke="#000" stroke-width="2" stroke-linecap="butt"/>
<line x1="931.80" y1="873.70" x2="931.80" y2="876.55" stroke="#000" stroke-width="2" stroke-linecap="butt"/>
<line x1="996.20" y1="873.70" x2="996.20" y2="876.55" stroke="#000" stroke-width="2" stroke-linecap="butt"/>
<line x1="1060.60" y1="873.70" x2="1060.60" y2="876.55" stroke="#000" stroke-width="2" stroke-linecap="butt"/>
<line x1="766.35" y1="873.00" x2="770.80" y2="873.00" stroke="#000" stroke-width="2" stroke-linecap="butt"/>
<text x="762.80" y="876.80" font-size="12.8" text-anchor="end" fill="#000" font-weight="bold">0</text>
<line x1="766.35" y1="819.24" x2="770.80" y2="819.24" stroke="#000" stroke-width="2" stroke-linecap="butt"/>
<text x="762.80" y="823.04" font-size="12.8" text-anchor="end" fill="#000" font-weight="bold">3</text>
<line x1="766.35" y1="765.48" x2="770.80" y2="765.48" stroke="#000" stroke-width="2" stroke-linecap="butt"/>
<text x="762.80" y="769.28" font-size="12.8" text-anchor="end" fill="#000" font-weight="bold">6</text>
<line x1="766.35" y1="711.72" x2="770.80" y2="711.72" stroke="#000" stroke-width="2" stroke-linecap="butt"/>
<text x="762.80" y="715.52" font-size="12.8" text-anchor="end" fill="#000" font-weight="bold">9</text>
<line x1="766.35" y1="657.96" x2="770.80" y2="657.96" stroke="#000" stroke-width="2" stroke-linecap="butt"/>
<text x="762.80" y="661.76" font-size="12.8" text-anchor="end" fill="#000" font-weight="bold">12</text>
<line x1="768.05" y1="846.12" x2="770.80" y2="846.12" stroke="#000" stroke-width="2" stroke-linecap="butt"/>
<line x1="768.05" y1="792.36" x2="770.80" y2="792.36" stroke="#000" stroke-width="2" stroke-linecap="butt"/>
<line x1="768.05" y1="738.60" x2="770.80" y2="738.60" stroke="#000" stroke-width="2" stroke-linecap="butt"/>
<line x1="768.05" y1="684.84" x2="770.80" y2="684.84" stroke="#000" stroke-width="2" stroke-linecap="butt"/>
<rect x="770.80" y="640.20" width="289.90" height="233.50" fill="none" stroke="#000" stroke-width="2.5"/>
<text x="915.00" y="915.90" font-size="14.3" text-anchor="middle" fill="#000" font-weight="bold">C<tspan dy="3" font-size="10">2</tspan><tspan dy="-3" font-size="1">&#8203;</tspan>H<tspan dy="3" font-size="10">2</tspan><tspan dy="-3" font-size="1">&#8203;</tspan> Production (mmol/kg)</text>
<text x="732.00" y="759.00" font-size="14.3" text-anchor="middle" fill="#000" font-weight="bold" transform="rotate(-90 732.00 759.00)">Separation Factor</text>
<text x="720.00" y="638.60" font-size="25" text-anchor="start" fill="#000" font-weight="bold">(h)</text>
</svg>
</body></html>
